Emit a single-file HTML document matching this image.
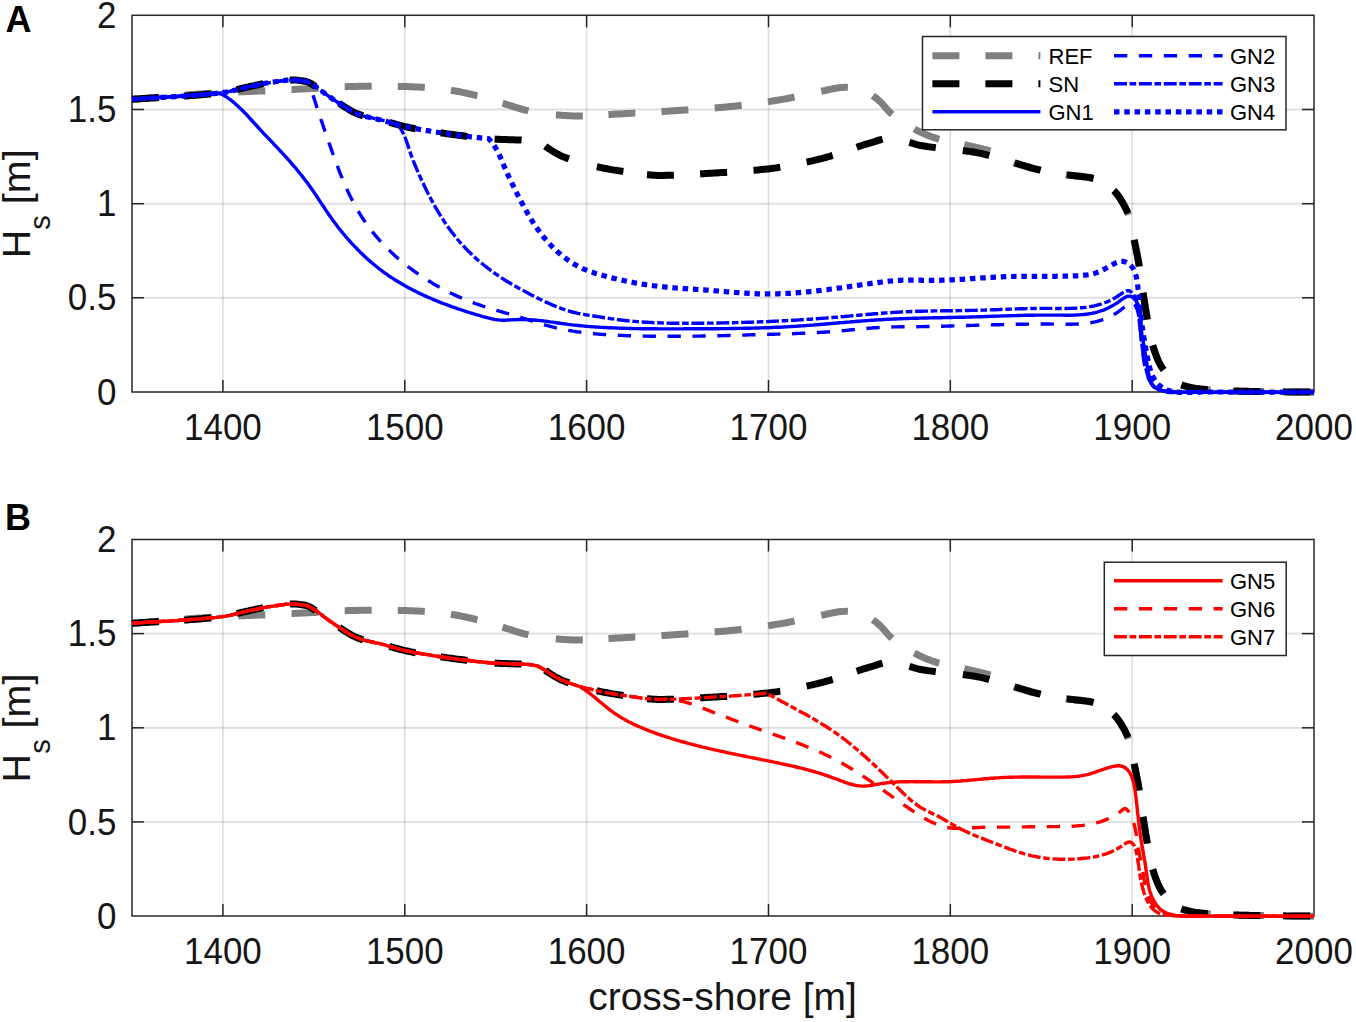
<!DOCTYPE html>
<html><head><meta charset="utf-8"><style>
html,body{margin:0;padding:0;background:#fff;width:1356px;height:1022px;overflow:hidden}
svg{display:block}
text{font-family:"Liberation Sans",sans-serif;fill:#161616}
.tk{font-size:35px}
.lg{font-size:22px;fill:#000}
.yl{font-size:39.5px}
.sub{font-size:29px}
.xl{font-size:39px}
.pl{font-size:36px;font-weight:bold;fill:#000}
</style></head><body>
<svg width="1356" height="1022" viewBox="0 0 1356 1022">
<rect width="1356" height="1022" fill="#fff"/>
<line x1="222.9" y1="15.3" x2="222.9" y2="392" stroke="#262626" stroke-opacity="0.15" stroke-width="1.7"/>
<line x1="404.8" y1="15.3" x2="404.8" y2="392" stroke="#262626" stroke-opacity="0.15" stroke-width="1.7"/>
<line x1="586.6" y1="15.3" x2="586.6" y2="392" stroke="#262626" stroke-opacity="0.15" stroke-width="1.7"/>
<line x1="768.5" y1="15.3" x2="768.5" y2="392" stroke="#262626" stroke-opacity="0.15" stroke-width="1.7"/>
<line x1="950.3" y1="15.3" x2="950.3" y2="392" stroke="#262626" stroke-opacity="0.15" stroke-width="1.7"/>
<line x1="1132.2" y1="15.3" x2="1132.2" y2="392" stroke="#262626" stroke-opacity="0.15" stroke-width="1.7"/>
<line x1="132" y1="297.8" x2="1314" y2="297.8" stroke="#262626" stroke-opacity="0.15" stroke-width="1.9"/>
<line x1="132" y1="203.7" x2="1314" y2="203.7" stroke="#262626" stroke-opacity="0.15" stroke-width="1.9"/>
<line x1="132" y1="109.5" x2="1314" y2="109.5" stroke="#262626" stroke-opacity="0.15" stroke-width="1.9"/>
<line x1="222.9" y1="539.5" x2="222.9" y2="916" stroke="#262626" stroke-opacity="0.15" stroke-width="1.7"/>
<line x1="404.8" y1="539.5" x2="404.8" y2="916" stroke="#262626" stroke-opacity="0.15" stroke-width="1.7"/>
<line x1="586.6" y1="539.5" x2="586.6" y2="916" stroke="#262626" stroke-opacity="0.15" stroke-width="1.7"/>
<line x1="768.5" y1="539.5" x2="768.5" y2="916" stroke="#262626" stroke-opacity="0.15" stroke-width="1.7"/>
<line x1="950.3" y1="539.5" x2="950.3" y2="916" stroke="#262626" stroke-opacity="0.15" stroke-width="1.7"/>
<line x1="1132.2" y1="539.5" x2="1132.2" y2="916" stroke="#262626" stroke-opacity="0.15" stroke-width="1.7"/>
<line x1="132" y1="821.9" x2="1314" y2="821.9" stroke="#262626" stroke-opacity="0.15" stroke-width="1.9"/>
<line x1="132" y1="727.8" x2="1314" y2="727.8" stroke="#262626" stroke-opacity="0.15" stroke-width="1.9"/>
<line x1="132" y1="633.6" x2="1314" y2="633.6" stroke="#262626" stroke-opacity="0.15" stroke-width="1.9"/>
<rect x="132" y="15.3" width="1182" height="376.7" fill="none" stroke="#262626" stroke-width="1.5"/>
<line x1="222.9" y1="392" x2="222.9" y2="380" stroke="#262626" stroke-width="1.5"/>
<line x1="222.9" y1="15.3" x2="222.9" y2="27.3" stroke="#262626" stroke-width="1.5"/>
<line x1="404.8" y1="392" x2="404.8" y2="380" stroke="#262626" stroke-width="1.5"/>
<line x1="404.8" y1="15.3" x2="404.8" y2="27.3" stroke="#262626" stroke-width="1.5"/>
<line x1="586.6" y1="392" x2="586.6" y2="380" stroke="#262626" stroke-width="1.5"/>
<line x1="586.6" y1="15.3" x2="586.6" y2="27.3" stroke="#262626" stroke-width="1.5"/>
<line x1="768.5" y1="392" x2="768.5" y2="380" stroke="#262626" stroke-width="1.5"/>
<line x1="768.5" y1="15.3" x2="768.5" y2="27.3" stroke="#262626" stroke-width="1.5"/>
<line x1="950.3" y1="392" x2="950.3" y2="380" stroke="#262626" stroke-width="1.5"/>
<line x1="950.3" y1="15.3" x2="950.3" y2="27.3" stroke="#262626" stroke-width="1.5"/>
<line x1="1132.2" y1="392" x2="1132.2" y2="380" stroke="#262626" stroke-width="1.5"/>
<line x1="1132.2" y1="15.3" x2="1132.2" y2="27.3" stroke="#262626" stroke-width="1.5"/>
<line x1="132" y1="297.8" x2="144" y2="297.8" stroke="#262626" stroke-width="1.5"/>
<line x1="1314" y1="297.8" x2="1302" y2="297.8" stroke="#262626" stroke-width="1.5"/>
<line x1="132" y1="203.7" x2="144" y2="203.7" stroke="#262626" stroke-width="1.5"/>
<line x1="1314" y1="203.7" x2="1302" y2="203.7" stroke="#262626" stroke-width="1.5"/>
<line x1="132" y1="109.5" x2="144" y2="109.5" stroke="#262626" stroke-width="1.5"/>
<line x1="1314" y1="109.5" x2="1302" y2="109.5" stroke="#262626" stroke-width="1.5"/>
<text transform="translate(222.9,439.6) scale(1,1.065)" text-anchor="middle" class="tk">1400</text>
<text transform="translate(404.8,439.6) scale(1,1.065)" text-anchor="middle" class="tk">1500</text>
<text transform="translate(586.6,439.6) scale(1,1.065)" text-anchor="middle" class="tk">1600</text>
<text transform="translate(768.5,439.6) scale(1,1.065)" text-anchor="middle" class="tk">1700</text>
<text transform="translate(950.3,439.6) scale(1,1.065)" text-anchor="middle" class="tk">1800</text>
<text transform="translate(1132.2,439.6) scale(1,1.065)" text-anchor="middle" class="tk">1900</text>
<text transform="translate(1314.0,439.6) scale(1,1.065)" text-anchor="middle" class="tk">2000</text>
<text transform="translate(116.5,404.6) scale(1,1.065)" text-anchor="end" class="tk">0</text>
<text transform="translate(116.5,310.4) scale(1,1.065)" text-anchor="end" class="tk">0.5</text>
<text transform="translate(116.5,216.2) scale(1,1.065)" text-anchor="end" class="tk">1</text>
<text transform="translate(116.5,122.1) scale(1,1.065)" text-anchor="end" class="tk">1.5</text>
<text transform="translate(116.5,27.9) scale(1,1.065)" text-anchor="end" class="tk">2</text>
<text transform="translate(30.3,258.2) rotate(-90)" class="yl">H<tspan class="sub" dy="19.5">s</tspan><tspan dy="-19.5"> [m]</tspan></text>
<rect x="132" y="539.5" width="1182" height="376.5" fill="none" stroke="#262626" stroke-width="1.5"/>
<line x1="222.9" y1="916" x2="222.9" y2="904" stroke="#262626" stroke-width="1.5"/>
<line x1="222.9" y1="539.5" x2="222.9" y2="551.5" stroke="#262626" stroke-width="1.5"/>
<line x1="404.8" y1="916" x2="404.8" y2="904" stroke="#262626" stroke-width="1.5"/>
<line x1="404.8" y1="539.5" x2="404.8" y2="551.5" stroke="#262626" stroke-width="1.5"/>
<line x1="586.6" y1="916" x2="586.6" y2="904" stroke="#262626" stroke-width="1.5"/>
<line x1="586.6" y1="539.5" x2="586.6" y2="551.5" stroke="#262626" stroke-width="1.5"/>
<line x1="768.5" y1="916" x2="768.5" y2="904" stroke="#262626" stroke-width="1.5"/>
<line x1="768.5" y1="539.5" x2="768.5" y2="551.5" stroke="#262626" stroke-width="1.5"/>
<line x1="950.3" y1="916" x2="950.3" y2="904" stroke="#262626" stroke-width="1.5"/>
<line x1="950.3" y1="539.5" x2="950.3" y2="551.5" stroke="#262626" stroke-width="1.5"/>
<line x1="1132.2" y1="916" x2="1132.2" y2="904" stroke="#262626" stroke-width="1.5"/>
<line x1="1132.2" y1="539.5" x2="1132.2" y2="551.5" stroke="#262626" stroke-width="1.5"/>
<line x1="132" y1="821.9" x2="144" y2="821.9" stroke="#262626" stroke-width="1.5"/>
<line x1="1314" y1="821.9" x2="1302" y2="821.9" stroke="#262626" stroke-width="1.5"/>
<line x1="132" y1="727.8" x2="144" y2="727.8" stroke="#262626" stroke-width="1.5"/>
<line x1="1314" y1="727.8" x2="1302" y2="727.8" stroke="#262626" stroke-width="1.5"/>
<line x1="132" y1="633.6" x2="144" y2="633.6" stroke="#262626" stroke-width="1.5"/>
<line x1="1314" y1="633.6" x2="1302" y2="633.6" stroke="#262626" stroke-width="1.5"/>
<text transform="translate(222.9,963.6) scale(1,1.065)" text-anchor="middle" class="tk">1400</text>
<text transform="translate(404.8,963.6) scale(1,1.065)" text-anchor="middle" class="tk">1500</text>
<text transform="translate(586.6,963.6) scale(1,1.065)" text-anchor="middle" class="tk">1600</text>
<text transform="translate(768.5,963.6) scale(1,1.065)" text-anchor="middle" class="tk">1700</text>
<text transform="translate(950.3,963.6) scale(1,1.065)" text-anchor="middle" class="tk">1800</text>
<text transform="translate(1132.2,963.6) scale(1,1.065)" text-anchor="middle" class="tk">1900</text>
<text transform="translate(1314.0,963.6) scale(1,1.065)" text-anchor="middle" class="tk">2000</text>
<text transform="translate(116.5,928.6) scale(1,1.065)" text-anchor="end" class="tk">0</text>
<text transform="translate(116.5,834.5) scale(1,1.065)" text-anchor="end" class="tk">0.5</text>
<text transform="translate(116.5,740.4) scale(1,1.065)" text-anchor="end" class="tk">1</text>
<text transform="translate(116.5,646.2) scale(1,1.065)" text-anchor="end" class="tk">1.5</text>
<text transform="translate(116.5,552.1) scale(1,1.065)" text-anchor="end" class="tk">2</text>
<text transform="translate(30.3,782.4) rotate(-90)" class="yl">H<tspan class="sub" dy="19.5">s</tspan><tspan dy="-19.5"> [m]</tspan></text>
<path d="M132.0,99.3 L133.5,99.2 L135.0,99.1 L136.5,99.0 L138.0,98.9 L139.5,98.7 L141.0,98.6 L142.5,98.5 L144.0,98.4 L145.5,98.3 L147.0,98.2 L148.5,98.0 L149.9,97.9 L151.4,97.8 L152.9,97.7 L154.4,97.6 L155.9,97.4 L157.4,97.3 L158.9,97.2 M185.0,95.1 L186.5,95.0 L188.0,94.8 L189.5,94.7 L191.0,94.6 L192.5,94.5 L194.0,94.4 L195.5,94.3 L197.0,94.2 L198.5,94.1 L200.0,94.0 L201.5,93.9 L203.0,93.8 L204.5,93.7 L206.0,93.6 L207.5,93.5 L209.0,93.4 L210.5,93.3 L212.0,93.2 M238.3,91.9 L239.8,91.8 L241.3,91.8 L242.8,91.7 L244.3,91.7 L245.8,91.6 L247.3,91.6 L248.8,91.5 L250.3,91.4 L251.8,91.4 L253.3,91.3 L254.8,91.3 L256.3,91.2 L257.8,91.1 L259.3,91.1 L260.8,91.0 L262.3,91.0 L263.8,90.9 L265.3,90.8 M291.5,89.5 L293.0,89.5 L294.5,89.4 L296.0,89.3 L297.5,89.2 L299.0,89.2 L300.5,89.1 L302.0,89.0 L303.5,89.0 L305.0,88.9 L306.5,88.8 L308.0,88.8 L309.5,88.7 L311.0,88.6 L312.5,88.5 L314.0,88.4 L315.5,88.4 L316.9,88.3 L318.4,88.2 M344.7,86.7 L346.2,86.7 L347.7,86.6 L349.2,86.6 L350.7,86.5 L352.2,86.5 L353.7,86.5 L355.2,86.4 L356.7,86.4 L358.2,86.3 L359.7,86.3 L361.2,86.3 L362.7,86.3 L364.2,86.2 L365.7,86.2 L367.2,86.2 L368.7,86.2 L370.2,86.2 L371.7,86.2 M397.8,86.5 L399.3,86.5 L400.8,86.5 L402.3,86.6 L403.8,86.6 L405.3,86.6 L406.8,86.6 L408.3,86.7 L409.8,86.7 L411.3,86.8 L412.8,86.8 L414.3,86.9 L415.8,87.0 L417.3,87.0 L418.8,87.1 L420.3,87.2 L421.8,87.2 L423.3,87.3 L424.8,87.4 M450.9,90.3 L452.4,90.6 L453.9,90.8 L455.4,91.0 L456.8,91.2 L458.3,91.5 L459.8,91.8 L461.3,92.1 L462.7,92.4 L464.2,92.7 L465.7,93.0 L467.1,93.3 L468.6,93.6 L470.1,94.0 L471.5,94.3 L473.0,94.7 L474.4,95.0 L475.9,95.4 L477.4,95.7 M502.6,103.2 L504.0,103.6 L505.4,104.1 L506.9,104.5 L508.3,105.0 L509.7,105.4 L511.1,105.9 L512.6,106.4 L514.0,106.8 L515.4,107.3 L516.9,107.7 L518.3,108.2 L519.7,108.6 L521.2,109.0 L522.6,109.4 L524.1,109.8 L525.5,110.2 L527.0,110.5 L528.4,110.9 M555.8,114.9 L557.3,115.0 L558.8,115.1 L560.3,115.2 L561.8,115.3 L563.3,115.4 L564.8,115.5 L566.3,115.6 L567.8,115.7 L569.3,115.7 L570.8,115.8 L572.3,115.9 L573.8,115.9 L575.3,115.9 L576.8,116.0 L578.3,116.0 L579.8,116.0 L581.3,116.0 L582.8,116.0 M608.4,114.6 L609.9,114.5 L611.3,114.4 L612.8,114.3 L614.3,114.2 L615.8,114.1 L617.3,114.0 L618.8,114.0 L620.3,113.9 L621.8,113.8 L623.3,113.7 L624.8,113.6 L626.3,113.6 L627.8,113.5 L629.3,113.4 L630.8,113.3 L632.3,113.2 L633.8,113.1 L635.3,113.1 M661.5,111.5 L663.0,111.4 L664.5,111.4 L666.0,111.3 L667.5,111.2 L669.0,111.1 L670.4,111.0 L671.9,110.9 L673.4,110.8 L674.9,110.7 L676.4,110.6 L677.9,110.5 L679.4,110.4 L680.9,110.3 L682.4,110.2 L683.9,110.1 L685.4,110.0 L686.9,109.9 L688.4,109.8 M714.7,107.9 L716.2,107.8 L717.7,107.7 L719.2,107.5 L720.7,107.4 L722.2,107.3 L723.7,107.2 L725.2,107.0 L726.7,106.9 L728.2,106.7 L729.7,106.6 L731.2,106.5 L732.7,106.3 L734.2,106.2 L735.7,106.0 L737.1,105.8 L738.6,105.7 L740.1,105.5 L741.6,105.3 M768.0,101.7 L769.5,101.5 L770.9,101.3 L772.4,101.0 L773.9,100.8 L775.4,100.5 L776.9,100.3 L778.3,100.1 L779.8,99.8 L781.3,99.6 L782.8,99.3 L784.3,99.1 L785.7,98.8 L787.2,98.5 L788.7,98.2 L790.1,97.9 L791.6,97.6 L793.1,97.3 L794.5,97.0 M821.2,91.3 L822.7,91.0 L824.2,90.7 L825.6,90.4 L827.1,90.0 L828.6,89.7 L830.0,89.4 L831.5,89.1 L833.0,88.8 L834.5,88.5 L835.9,88.3 L837.4,88.0 L838.9,87.8 L840.4,87.6 L841.9,87.5 L843.4,87.4 L844.9,87.3 L846.4,87.3 L847.9,87.4 M872.8,95.7 L874.0,96.6 L875.2,97.5 L876.5,98.3 L877.6,99.3 L878.7,100.3 L879.8,101.3 L880.9,102.4 L881.9,103.5 L882.9,104.6 L883.9,105.8 L884.9,106.9 L885.8,108.0 L886.8,109.1 L887.8,110.2 L888.9,111.3 L889.9,112.4 L891.0,113.4 L892.1,114.4 M914.3,129.0 L915.6,129.7 L917.0,130.4 L918.3,131.1 L919.7,131.7 L921.0,132.3 L922.4,133.0 L923.8,133.6 L925.1,134.2 L926.5,134.8 L927.9,135.4 L929.3,135.9 L930.7,136.4 L932.1,137.0 L933.5,137.4 L935.0,137.9 L936.4,138.4 L937.8,138.8 L939.3,139.2 M964.3,144.7 L965.7,145.0 L967.2,145.3 L968.7,145.7 L970.1,146.0 L971.6,146.4 L973.0,146.7 L974.5,147.0 L976.0,147.4 L977.4,147.7 L978.9,148.0 L980.4,148.4 L981.8,148.7 L983.3,149.1 L984.7,149.4 L986.2,149.8 L987.6,150.2 L989.1,150.6 L990.5,151.0 M1013.9,162.7 L1015.3,163.3 L1016.8,163.8 L1018.2,164.2 L1019.6,164.7 L1021.0,165.2 L1022.5,165.6 L1023.9,166.0 L1025.4,166.4 L1026.8,166.8 L1028.3,167.2 L1029.7,167.6 L1031.2,168.0 L1032.6,168.3 L1034.1,168.7 L1035.5,169.0 L1037.0,169.3 L1038.5,169.7 L1039.9,170.0 M1065.8,174.7 L1067.3,174.9 L1068.8,175.1 L1070.3,175.3 L1071.7,175.5 L1073.2,175.6 L1074.7,175.8 L1076.2,175.9 L1077.7,176.1 L1079.2,176.2 L1080.7,176.4 L1082.2,176.5 L1083.7,176.7 L1085.2,176.9 L1086.6,177.1 L1088.1,177.4 L1089.6,177.6 L1091.1,177.9 L1092.6,178.2 M1114.8,191.7 L1115.9,192.8 L1116.9,194.0 L1117.9,195.3 L1118.8,196.6 L1119.7,197.9 L1120.5,199.2 L1121.4,200.6 L1122.2,202.0 L1123.0,203.3 L1123.8,204.7 L1124.6,206.1 L1125.3,207.5 L1126.0,208.9 L1126.7,210.4 L1127.3,211.8 L1127.9,213.3 L1128.4,214.8 M1134.2,240.4 L1134.6,241.9 L1134.9,243.3 L1135.2,244.8 L1135.5,246.3 L1135.8,247.8 L1136.1,249.2 L1136.4,250.7 L1136.7,252.2 L1137.0,253.6 L1137.2,255.1 L1137.5,256.6 L1137.8,258.1 L1138.1,259.5 L1138.3,261.0 L1138.6,262.5 L1138.8,264.0 L1139.1,265.4 L1139.3,266.9 M1143.0,293.0 L1143.3,294.4 L1143.5,295.9 L1143.7,297.4 L1144.0,298.9 L1144.2,300.4 L1144.4,301.9 L1144.7,303.3 L1144.9,304.8 L1145.1,306.3 L1145.4,307.8 L1145.6,309.3 L1145.8,310.7 L1146.1,312.2 L1146.3,313.7 L1146.6,315.2 L1146.8,316.7 L1147.1,318.1 L1147.4,319.6 M1152.7,345.4 L1153.1,346.8 L1153.6,348.2 L1154.1,349.7 L1154.5,351.1 L1155.0,352.5 L1155.5,353.9 L1156.1,355.3 L1156.6,356.7 L1157.2,358.1 L1157.7,359.5 L1158.3,360.9 L1159.0,362.2 L1159.6,363.6 L1160.3,364.9 L1161.1,366.2 L1161.9,367.5 L1162.8,368.7 L1163.7,369.9 M1184.0,385.8 L1185.5,386.2 L1186.9,386.6 L1188.4,386.9 L1189.9,387.3 L1191.3,387.6 L1192.8,387.9 L1194.3,388.1 L1195.8,388.4 L1197.2,388.6 L1198.7,388.8 L1200.2,389.0 L1201.7,389.2 L1203.2,389.3 L1204.7,389.5 L1206.2,389.6 L1207.7,389.7 L1209.2,389.8 L1210.7,389.9 M1236.9,391.1 L1238.4,391.1 L1239.9,391.2 L1241.4,391.2 L1242.9,391.2 L1244.4,391.3 L1245.9,391.3 L1247.4,391.3 L1248.9,391.4 L1250.4,391.4 L1251.9,391.4 L1253.4,391.4 L1254.9,391.5 L1256.4,391.5 L1257.9,391.5 L1259.4,391.5 L1260.9,391.5 L1262.4,391.6 L1263.9,391.6 M1290.2,391.9 L1291.8,391.9 L1293.4,391.9 L1295.0,392.0 L1296.6,392.0 L1298.2,392.0 L1299.7,392.0 L1301.3,392.0 L1302.9,392.1 L1304.5,392.1 L1306.1,392.1 L1307.7,392.1 L1309.2,392.1 L1310.8,392.2 L1312.4,392.2 L1314.0,392.2" stroke="#808080" stroke-width="7" fill="none"/>
<path d="M132.0,99.3 L133.5,99.2 L135.0,99.1 L136.5,99.0 L138.0,98.9 L139.5,98.8 L141.0,98.7 L142.5,98.6 L144.0,98.5 L145.5,98.4 L147.0,98.3 L148.5,98.2 L150.0,98.1 L151.5,98.0 L153.0,97.9 L154.5,97.9 L156.0,97.8 L157.4,97.7 L158.9,97.6 M184.0,96.1 L185.6,96.0 L187.2,95.9 L188.8,95.8 L190.3,95.6 L191.9,95.5 L193.5,95.4 L195.1,95.3 L196.7,95.2 L198.3,95.0 L199.8,94.9 L201.4,94.8 L203.0,94.6 L204.6,94.5 L206.2,94.3 L207.7,94.2 L209.3,94.0 L210.9,93.9 M236.8,89.6 L238.3,89.2 L239.7,88.9 L241.2,88.5 L242.6,88.2 L244.1,87.8 L245.6,87.5 L247.0,87.2 L248.5,86.9 L250.0,86.5 L251.4,86.2 L252.9,85.9 L254.4,85.6 L255.8,85.2 L257.3,84.9 L258.8,84.6 L260.2,84.3 L261.7,84.0 L263.2,83.7 M290.0,80.1 L291.5,80.0 L293.0,80.0 L294.5,80.0 L296.0,80.1 L297.5,80.2 L299.0,80.4 L300.5,80.6 L302.0,80.8 L303.4,81.0 L304.9,81.3 L306.4,81.6 L307.8,82.0 L309.2,82.6 L310.5,83.3 L311.8,84.1 L313.1,84.9 L314.3,85.7 L315.6,86.5 M339.3,103.4 L340.5,104.2 L341.8,105.1 L343.1,105.9 L344.3,106.7 L345.6,107.5 L346.9,108.3 L348.2,109.0 L349.4,109.8 L350.7,110.6 L352.0,111.3 L353.4,112.0 L354.7,112.7 L356.1,113.3 L357.5,113.9 L358.9,114.4 L360.3,114.9 L361.7,115.4 L363.1,115.8 M389.5,122.3 L391.0,122.8 L392.4,123.2 L393.8,123.6 L395.3,124.0 L396.7,124.5 L398.2,124.9 L399.6,125.3 L401.1,125.6 L402.5,126.0 L404.0,126.4 L405.4,126.7 L406.9,127.0 L408.4,127.3 L409.8,127.6 L411.3,127.9 L412.8,128.2 L414.3,128.5 L415.7,128.7 M440.6,132.8 L442.1,133.0 L443.6,133.2 L445.1,133.4 L446.5,133.7 L448.0,133.9 L449.5,134.1 L451.0,134.3 L452.5,134.5 L454.0,134.7 L455.5,134.9 L457.0,135.1 L458.4,135.3 L459.9,135.5 L461.4,135.6 L462.9,135.8 L464.4,136.0 L465.9,136.2 L467.4,136.4 M494.6,139.1 L496.1,139.2 L497.6,139.3 L499.1,139.3 L500.6,139.4 L502.1,139.5 L503.6,139.5 L505.1,139.6 L506.6,139.6 L508.1,139.7 L509.6,139.7 L511.1,139.7 L512.6,139.8 L514.1,139.8 L515.6,139.9 L517.1,139.9 L518.6,140.0 L520.1,140.0 L521.6,140.1 M545.2,146.2 L546.4,147.1 L547.7,147.9 L548.9,148.8 L550.2,149.6 L551.4,150.4 L552.7,151.2 L553.9,152.0 L555.2,152.8 L556.5,153.5 L557.9,154.2 L559.2,154.9 L560.5,155.6 L561.9,156.2 L563.3,156.8 L564.7,157.3 L566.1,157.9 L567.5,158.4 L568.9,158.9 M596.8,166.7 L598.3,167.0 L599.7,167.3 L601.2,167.7 L602.7,168.0 L604.2,168.3 L605.6,168.5 L607.1,168.8 L608.6,169.1 L610.0,169.4 L611.5,169.6 L613.0,169.9 L614.5,170.1 L616.0,170.3 L617.5,170.6 L618.9,170.8 L620.4,171.0 L621.9,171.2 L623.4,171.4 M647.0,174.7 L648.5,174.8 L649.9,175.0 L651.4,175.1 L652.9,175.2 L654.4,175.3 L655.9,175.3 L657.4,175.4 L658.9,175.4 L660.4,175.4 L661.9,175.4 L663.4,175.4 L664.9,175.4 L666.4,175.3 L667.9,175.3 L669.4,175.3 L670.9,175.2 L672.4,175.2 L673.9,175.2 M700.1,173.9 L701.6,173.8 L703.1,173.7 L704.6,173.6 L706.1,173.5 L707.6,173.4 L709.1,173.3 L710.6,173.2 L712.1,173.2 L713.6,173.1 L715.1,173.0 L716.6,172.9 L718.1,172.8 L719.6,172.7 L721.1,172.6 L722.6,172.5 L724.1,172.5 L725.6,172.4 L727.1,172.3 M753.5,170.3 L755.0,170.2 L756.5,170.1 L758.0,169.9 L759.5,169.8 L761.0,169.6 L762.4,169.5 L763.9,169.3 L765.4,169.2 L766.9,169.0 L768.4,168.9 L769.9,168.7 L771.4,168.5 L772.9,168.3 L774.4,168.1 L775.8,167.9 L777.3,167.7 L778.8,167.4 L780.3,167.2 M806.6,162.1 L808.1,161.8 L809.5,161.4 L811.0,161.1 L812.4,160.8 L813.9,160.4 L815.4,160.1 L816.8,159.7 L818.3,159.4 L819.7,159.0 L821.2,158.7 L822.7,158.3 L824.1,157.9 L825.6,157.5 L827.0,157.1 L828.4,156.7 L829.9,156.3 L831.3,155.8 L832.7,155.4 M856.7,147.2 L858.1,146.7 L859.5,146.2 L860.9,145.8 L862.4,145.3 L863.8,144.8 L865.2,144.4 L866.7,144.0 L868.1,143.6 L869.6,143.2 L871.0,142.7 L872.4,142.3 L873.9,141.8 L875.3,141.4 L876.7,140.9 L878.1,140.4 L879.6,140.0 L881.0,139.6 L882.5,139.2 M909.4,142.4 L910.8,142.8 L912.2,143.2 L913.7,143.7 L915.1,144.1 L916.5,144.5 L918.0,144.9 L919.5,145.2 L920.9,145.5 L922.4,145.8 L923.9,146.0 L925.4,146.2 L926.9,146.5 L928.3,146.7 L929.8,146.9 L931.3,147.1 L932.8,147.3 L934.3,147.4 L935.8,147.6 M962.8,150.6 L964.3,150.8 L965.8,151.0 L967.3,151.2 L968.8,151.4 L970.2,151.6 L971.7,151.8 L973.2,152.0 L974.7,152.3 L976.2,152.5 L977.6,152.8 L979.1,153.1 L980.6,153.4 L982.0,153.7 L983.5,154.1 L985.0,154.4 L986.4,154.8 L987.9,155.2 L989.3,155.6 M1014.7,162.9 L1016.1,163.3 L1017.6,163.7 L1019.0,164.1 L1020.5,164.6 L1021.9,165.0 L1023.3,165.4 L1024.8,165.8 L1026.2,166.3 L1027.6,166.7 L1029.1,167.1 L1030.5,167.6 L1032.0,168.0 L1033.4,168.4 L1034.9,168.8 L1036.3,169.1 L1037.8,169.5 L1039.2,169.8 L1040.7,170.2 M1066.9,174.9 L1068.3,175.1 L1069.8,175.2 L1071.3,175.4 L1072.8,175.6 L1074.3,175.7 L1075.8,175.9 L1077.3,176.0 L1078.8,176.2 L1080.3,176.3 L1081.8,176.5 L1083.3,176.7 L1084.7,176.9 L1086.2,177.1 L1087.7,177.3 L1089.2,177.5 L1090.7,177.8 L1092.1,178.1 L1093.6,178.4 M1113.7,190.6 L1114.8,191.6 L1115.8,192.7 L1116.8,193.9 L1117.7,195.1 L1118.6,196.3 L1119.4,197.5 L1120.2,198.8 L1121.0,200.0 L1121.8,201.3 L1122.6,202.6 L1123.3,203.9 L1124.1,205.2 L1124.8,206.5 L1125.5,207.9 L1126.1,209.2 L1126.8,210.6 L1127.3,212.0 L1127.9,213.4 M1134.1,239.7 L1134.4,241.2 L1134.7,242.6 L1135.0,244.1 L1135.3,245.6 L1135.6,247.0 L1135.9,248.5 L1136.2,250.0 L1136.5,251.5 L1136.8,252.9 L1137.1,254.4 L1137.4,255.9 L1137.7,257.4 L1137.9,258.8 L1138.2,260.3 L1138.5,261.8 L1138.7,263.3 L1139.0,264.7 L1139.2,266.2 M1143.0,292.8 L1143.2,294.3 L1143.5,295.8 L1143.7,297.3 L1143.9,298.8 L1144.2,300.3 L1144.4,301.7 L1144.6,303.2 L1144.9,304.7 L1145.1,306.2 L1145.3,307.7 L1145.6,309.1 L1145.8,310.6 L1146.1,312.1 L1146.3,313.6 L1146.6,315.1 L1146.8,316.5 L1147.1,318.0 L1147.3,319.5 M1152.7,345.4 L1153.2,346.9 L1153.6,348.3 L1154.1,349.7 L1154.6,351.1 L1155.1,352.6 L1155.6,354.0 L1156.1,355.4 L1156.6,356.8 L1157.2,358.2 L1157.8,359.6 L1158.4,360.9 L1159.0,362.3 L1159.7,363.6 L1160.4,365.0 L1161.1,366.3 L1161.9,367.5 L1162.8,368.7 L1163.7,369.9 M1181.3,384.9 L1182.7,385.4 L1184.1,385.8 L1185.6,386.2 L1187.0,386.6 L1188.5,386.9 L1189.9,387.3 L1191.4,387.6 L1192.9,387.9 L1194.4,388.1 L1195.8,388.4 L1197.3,388.6 L1198.8,388.8 L1200.3,389.0 L1201.8,389.2 L1203.3,389.3 L1204.8,389.5 L1206.3,389.6 L1207.8,389.7 M1233.3,391.0 L1234.8,391.0 L1236.3,391.1 L1237.8,391.1 L1239.3,391.2 L1240.8,391.2 L1242.3,391.2 L1243.8,391.3 L1245.3,391.3 L1246.8,391.3 L1248.3,391.3 L1249.8,391.4 L1251.3,391.4 L1252.8,391.4 L1254.3,391.4 L1255.8,391.5 L1257.3,391.5 L1258.8,391.5 L1260.3,391.5 M1283.1,391.8 L1284.6,391.8 L1286.1,391.9 L1287.6,391.9 L1289.1,391.9 L1290.6,391.9 L1292.1,391.9 L1293.6,391.9 L1295.1,392.0 L1296.6,392.0 L1298.1,392.0 L1299.6,392.0 L1301.1,392.0 L1302.6,392.0 L1304.1,392.1 L1305.6,392.1 L1307.1,392.1 L1308.6,392.1 L1310.1,392.1" stroke="#000" stroke-width="7" fill="none"/>
<path d="M132.0,99.3 L133.9,99.2 L135.8,99.0 L137.7,98.9 L139.6,98.7 L141.5,98.6 L143.5,98.5 L145.5,98.3 L147.5,98.2 L149.5,98.0 L151.5,97.9 L153.5,97.8 L155.5,97.6 L157.5,97.5 L159.6,97.3 L161.6,97.2 L163.7,97.1 L165.7,96.9 L167.8,96.8 L169.9,96.7 L171.9,96.5 L174.0,96.4 L176.1,96.2 L178.1,96.1 L180.2,96.0 L182.2,95.8 L184.3,95.7 L186.3,95.6 L188.4,95.4 L190.4,95.3 L192.4,95.2 L194.4,95.0 L196.4,94.9 L198.4,94.7 L200.4,94.5 L202.3,94.3 L204.3,94.1 L206.2,93.9 L208.1,93.7 L210.0,93.5 L211.9,93.3 L213.7,93.1 L215.6,93.1 L217.4,93.2 L219.2,93.5 L220.9,94.0 L222.7,94.7 L224.4,95.7 L226.1,96.7 L227.7,97.8 L229.4,99.0 L231.0,100.2 L232.5,101.4 L234.1,102.7 L235.6,104.0 L237.1,105.4 L238.6,106.7 L240.1,108.2 L241.6,109.6 L243.0,111.0 L244.4,112.5 L245.9,114.0 L247.3,115.5 L248.7,117.0 L250.0,118.5 L251.4,120.0 L252.8,121.5 L254.1,123.0 L255.5,124.5 L256.9,126.0 L258.2,127.5 L259.5,128.9 L260.9,130.4 L262.2,131.8 L263.6,133.3 L264.9,134.7 L266.3,136.1 L267.6,137.5 L269.0,138.9 L270.3,140.3 L271.6,141.7 L273.0,143.2 L274.3,144.6 L275.7,146.0 L277.0,147.4 L278.4,148.9 L279.7,150.3 L281.1,151.8 L282.4,153.2 L283.8,154.7 L285.1,156.2 L286.5,157.7 L287.8,159.2 L289.2,160.7 L290.5,162.2 L291.9,163.8 L293.2,165.3 L294.6,166.9 L295.9,168.4 L297.2,170.0 L298.5,171.6 L299.8,173.2 L301.1,174.8 L302.4,176.4 L303.6,178.0 L304.8,179.6 L306.1,181.2 L307.3,182.8 L308.5,184.4 L309.6,186.0 L310.8,187.7 L311.9,189.3 L313.1,190.9 L314.2,192.6 L315.3,194.2 L316.4,195.8 L317.5,197.5 L318.6,199.1 L319.6,200.8 L320.7,202.4 L321.8,204.0 L322.9,205.7 L324.0,207.3 L325.0,208.9 L326.1,210.6 L327.2,212.2 L328.3,213.8 L329.5,215.5 L330.6,217.1 L331.8,218.7 L332.9,220.3 L334.1,221.9 L335.3,223.5 L336.5,225.1 L337.7,226.7 L338.9,228.3 L340.2,229.8 L341.4,231.4 L342.7,233.0 L344.0,234.5 L345.3,236.1 L346.6,237.6 L347.9,239.1 L349.3,240.6 L350.6,242.1 L352.0,243.6 L353.4,245.1 L354.8,246.6 L356.2,248.0 L357.6,249.5 L359.0,250.9 L360.4,252.4 L361.9,253.8 L363.4,255.2 L364.8,256.5 L366.3,257.9 L367.8,259.3 L369.3,260.6 L370.8,261.9 L372.4,263.2 L373.9,264.5 L375.4,265.8 L377.0,267.0 L378.6,268.3 L380.2,269.5 L381.7,270.7 L383.3,271.9 L385.0,273.1 L386.6,274.2 L388.2,275.3 L389.8,276.5 L391.5,277.6 L393.2,278.6 L394.8,279.7 L396.5,280.7 L398.2,281.8 L399.9,282.8 L401.6,283.8 L403.3,284.8 L405.0,285.8 L406.7,286.7 L408.5,287.7 L410.2,288.6 L412.0,289.5 L413.7,290.4 L415.5,291.3 L417.3,292.2 L419.0,293.1 L420.8,293.9 L422.6,294.8 L424.4,295.6 L426.2,296.4 L428.0,297.2 L429.9,298.0 L431.7,298.8 L433.5,299.6 L435.4,300.3 L437.2,301.1 L439.1,301.8 L440.9,302.6 L442.8,303.3 L444.7,304.0 L446.5,304.7 L448.4,305.4 L450.3,306.1 L452.2,306.8 L454.1,307.4 L456.0,308.1 L457.9,308.8 L459.8,309.4 L461.7,310.0 L463.6,310.7 L465.5,311.3 L467.5,311.9 L469.4,312.5 L471.3,313.1 L473.3,313.7 L475.2,314.3 L477.1,314.9 L479.1,315.4 L481.0,316.0 L483.0,316.6 L484.9,317.1 L486.9,317.6 L488.9,318.1 L490.8,318.6 L492.8,319.0 L494.8,319.4 L496.7,319.7 L498.7,319.9 L500.7,320.1 L502.6,320.2 L504.6,320.2 L506.6,320.1 L508.6,320.0 L510.6,319.9 L512.5,319.8 L514.5,319.7 L516.5,319.6 L518.5,319.5 L520.5,319.5 L522.4,319.5 L524.4,319.5 L526.4,319.5 L528.4,319.6 L530.4,319.7 L532.4,319.9 L534.4,320.0 L536.3,320.2 L538.3,320.4 L540.3,320.6 L542.3,320.8 L544.3,321.1 L546.3,321.3 L548.3,321.6 L550.3,321.9 L552.3,322.1 L554.2,322.4 L556.2,322.7 L558.2,323.0 L560.2,323.3 L562.2,323.6 L564.2,323.8 L566.2,324.1 L568.2,324.4 L570.2,324.6 L572.2,324.9 L574.2,325.1 L576.2,325.3 L578.2,325.5 L580.2,325.7 L582.1,325.9 L584.1,326.1 L586.1,326.3 L588.1,326.4 L590.1,326.6 L592.1,326.7 L594.1,326.9 L596.1,327.0 L598.1,327.1 L600.1,327.3 L602.1,327.4 L604.1,327.5 L606.1,327.6 L608.1,327.7 L610.1,327.8 L612.1,327.9 L614.1,327.9 L616.1,328.0 L618.1,328.1 L620.1,328.2 L622.1,328.2 L624.1,328.3 L626.1,328.4 L628.1,328.4 L630.1,328.5 L632.1,328.5 L634.1,328.6 L636.1,328.6 L638.1,328.6 L640.1,328.7 L642.1,328.7 L644.1,328.7 L646.1,328.8 L648.1,328.8 L650.1,328.8 L652.1,328.8 L654.1,328.8 L656.1,328.8 L658.1,328.9 L660.1,328.9 L662.1,328.9 L664.1,328.9 L666.1,328.9 L668.1,328.9 L670.1,328.9 L672.1,328.9 L674.1,328.9 L676.1,328.9 L678.1,328.9 L680.1,328.9 L682.1,328.9 L684.1,328.8 L686.1,328.8 L688.1,328.8 L690.1,328.8 L692.1,328.8 L694.1,328.8 L696.1,328.8 L698.1,328.8 L700.1,328.8 L702.1,328.8 L704.1,328.7 L706.1,328.7 L708.1,328.7 L710.1,328.7 L712.1,328.7 L714.1,328.7 L716.1,328.7 L718.1,328.7 L720.1,328.6 L722.1,328.6 L724.0,328.6 L726.0,328.6 L728.0,328.6 L730.0,328.5 L732.0,328.5 L734.0,328.5 L736.0,328.5 L738.0,328.4 L740.0,328.4 L742.0,328.4 L744.0,328.3 L746.0,328.3 L748.0,328.2 L750.0,328.2 L752.0,328.1 L754.0,328.1 L756.0,328.0 L758.0,328.0 L760.0,327.9 L762.0,327.9 L764.0,327.8 L765.9,327.7 L767.9,327.7 L769.9,327.6 L771.9,327.5 L773.9,327.4 L775.9,327.3 L777.9,327.3 L779.9,327.2 L781.9,327.1 L783.9,327.0 L785.9,326.9 L787.9,326.8 L789.9,326.6 L791.9,326.5 L793.9,326.4 L795.9,326.3 L797.9,326.1 L799.8,326.0 L801.8,325.9 L803.8,325.7 L805.8,325.6 L807.8,325.4 L809.8,325.3 L811.8,325.1 L813.8,325.0 L815.8,324.8 L817.8,324.7 L819.8,324.5 L821.8,324.3 L823.8,324.2 L825.8,324.0 L827.8,323.8 L829.7,323.7 L831.7,323.5 L833.7,323.3 L835.7,323.2 L837.7,323.0 L839.7,322.8 L841.7,322.6 L843.7,322.5 L845.7,322.3 L847.7,322.1 L849.7,322.0 L851.7,321.8 L853.7,321.7 L855.7,321.5 L857.7,321.3 L859.7,321.2 L861.6,321.0 L863.6,320.9 L865.6,320.7 L867.6,320.6 L869.6,320.4 L871.6,320.3 L873.6,320.2 L875.6,320.0 L877.6,319.9 L879.6,319.8 L881.6,319.7 L883.6,319.5 L885.6,319.4 L887.6,319.3 L889.6,319.2 L891.6,319.1 L893.6,319.0 L895.6,319.0 L897.6,318.9 L899.6,318.8 L901.6,318.7 L903.5,318.6 L905.5,318.6 L907.5,318.5 L909.5,318.4 L911.5,318.4 L913.5,318.3 L915.5,318.3 L917.5,318.2 L919.5,318.1 L921.5,318.1 L923.5,318.0 L925.5,318.0 L927.5,318.0 L929.5,317.9 L931.5,317.9 L933.5,317.8 L935.5,317.8 L937.5,317.7 L939.5,317.7 L941.5,317.7 L943.5,317.6 L945.5,317.6 L947.5,317.5 L949.5,317.5 L951.5,317.5 L953.5,317.4 L955.5,317.4 L957.5,317.3 L959.5,317.3 L961.5,317.2 L963.5,317.2 L965.5,317.1 L967.5,317.1 L969.5,317.0 L971.5,317.0 L973.5,316.9 L975.5,316.9 L977.5,316.8 L979.5,316.7 L981.5,316.7 L983.5,316.6 L985.5,316.5 L987.5,316.5 L989.5,316.4 L991.5,316.3 L993.5,316.3 L995.6,316.2 L997.6,316.1 L999.6,316.1 L1001.6,316.0 L1003.6,315.9 L1005.6,315.9 L1007.6,315.8 L1009.6,315.7 L1011.6,315.7 L1013.6,315.6 L1015.6,315.6 L1017.6,315.5 L1019.6,315.5 L1021.6,315.4 L1023.6,315.4 L1025.7,315.3 L1027.7,315.3 L1029.7,315.2 L1031.7,315.2 L1033.7,315.2 L1035.7,315.1 L1037.7,315.1 L1039.7,315.1 L1041.7,315.1 L1043.7,315.1 L1045.8,315.1 L1047.8,315.1 L1049.8,315.1 L1051.8,315.1 L1053.8,315.1 L1055.8,315.1 L1057.8,315.1 L1059.8,315.1 L1061.9,315.1 L1063.9,315.2 L1065.9,315.2 L1067.9,315.2 L1069.9,315.2 L1071.9,315.1 L1073.9,315.1 L1075.9,315.0 L1077.8,314.9 L1079.8,314.8 L1081.8,314.6 L1083.7,314.5 L1085.7,314.2 L1087.6,314.0 L1089.6,313.7 L1091.5,313.4 L1093.4,313.0 L1095.3,312.6 L1097.2,312.1 L1099.0,311.5 L1100.9,310.9 L1102.8,310.3 L1104.6,309.6 L1106.4,308.8 L1108.2,308.0 L1110.0,307.1 L1111.8,306.1 L1113.5,305.1 L1115.2,304.1 L1117.0,303.0 L1118.6,301.8 L1120.3,300.6 L1122.0,299.4 L1123.6,298.3 L1125.2,297.3 L1126.8,296.6 L1128.4,296.2 L1129.9,296.1 L1131.4,296.6 L1132.9,297.5 L1134.3,298.8 L1135.6,300.3 L1136.8,302.1 L1137.9,304.1 L1138.8,306.1 L1139.5,308.2 L1140.1,310.3 L1140.4,312.4 L1140.7,314.4 L1140.9,316.5 L1141.0,318.5 L1141.0,320.5 L1141.0,322.6 L1141.1,324.6 L1141.1,326.5 L1141.3,328.5 L1141.4,330.5 L1141.7,332.4 L1141.9,334.3 L1142.2,336.2 L1142.6,338.2 L1142.9,340.1 L1143.3,342.0 L1143.6,343.9 L1144.0,345.8 L1144.3,347.7 L1144.7,349.7 L1145.0,351.6 L1145.3,353.6 L1145.6,355.6 L1146.0,357.6 L1146.3,359.6 L1146.6,361.6 L1146.9,363.7 L1147.2,365.8 L1147.5,367.9 L1147.9,370.0 L1148.3,372.1 L1148.7,374.2 L1149.2,376.2 L1149.7,378.2 L1150.4,380.1 L1151.1,381.9 L1152.0,383.5 L1152.9,385.0 L1154.0,386.4 L1155.3,387.6 L1156.7,388.6 L1158.2,389.4 L1159.9,390.1 L1161.7,390.6 L1163.6,391.0 L1165.6,391.3 L1167.6,391.5 L1169.7,391.7 L1171.7,391.8 L1173.8,391.9 L1175.9,391.9 L1178.0,392.0 L1180.0,392.1 L1182.1,392.1 L1184.1,392.2 L1186.1,392.2 L1188.1,392.2 L1190.2,392.2 L1192.2,392.3 L1194.2,392.3 L1196.2,392.3 L1198.2,392.3 L1200.2,392.3 L1202.2,392.3 L1204.1,392.2 L1206.1,392.2 L1208.1,392.2 L1210.1,392.2 L1212.1,392.2 L1214.1,392.2 L1216.0,392.1 L1218.0,392.1 L1220.0,392.1 L1222.0,392.1 L1224.0,392.1 L1226.0,392.1 L1228.0,392.1 L1230.0,392.1 L1231.9,392.1 L1233.9,392.1 L1235.9,392.1 L1237.9,392.1 L1239.9,392.1 L1241.9,392.1 L1243.9,392.1 L1245.9,392.1 L1247.9,392.1 L1249.9,392.1 L1251.9,392.1 L1254.0,392.1 L1256.0,392.1 L1258.0,392.1 L1260.0,392.1 L1262.0,392.1 L1264.0,392.1 L1266.0,392.2 L1268.0,392.2 L1270.0,392.2 L1272.0,392.2 L1274.0,392.2 L1276.0,392.2 L1278.0,392.2 L1280.0,392.2 L1282.0,392.2 L1284.0,392.2 L1286.1,392.2 L1288.1,392.2 L1290.1,392.2 L1292.1,392.2 L1294.1,392.2 L1296.1,392.2 L1298.1,392.2 L1300.1,392.2 L1302.1,392.2 L1304.0,392.2 L1306.0,392.2 L1308.0,392.2 L1310.0,392.2 L1312.0,392.2 L1314.0,392.2" stroke="#0000ff" stroke-width="3.4" fill="none"/>
<path d="M132.0,99.3 L134.0,99.2 L136.0,99.0 L138.0,98.9 L140.0,98.7 L142.0,98.6 L144.0,98.5 L146.0,98.4 L148.0,98.2 L150.0,98.1 L152.0,98.0 L154.0,97.9 L156.0,97.8 L158.0,97.6 L160.0,97.5 L162.0,97.4 L164.0,97.3 L166.0,97.2 L168.0,97.1 L170.0,97.0 L172.0,96.8 L174.0,96.7 L176.0,96.6 L178.0,96.5 L180.0,96.3 L182.0,96.2 L184.0,96.1 L186.0,95.9 L188.0,95.8 L190.0,95.7 L192.0,95.5 L194.0,95.4 L196.0,95.2 L198.0,95.1 L200.0,94.9 L202.0,94.7 L204.0,94.5 L206.0,94.4 L208.0,94.2 L210.0,94.0 L212.0,93.8 L214.0,93.6 L216.0,93.4 L218.0,93.1 L220.0,92.9 L222.0,92.7 L224.0,92.4 L226.0,92.1 L227.9,91.7 L229.9,91.3 L231.9,90.8 L233.8,90.4 L235.8,89.9 L237.8,89.4 L239.7,88.9 L241.7,88.4 L243.7,87.9 L245.7,87.5 L247.6,87.0 L249.6,86.6 L251.6,86.2 L253.5,85.8 L255.5,85.3 L257.4,84.9 L259.4,84.5 L261.4,84.1 L263.3,83.7 L265.3,83.3 L267.2,83.0 L269.2,82.7 L271.2,82.4 L273.2,82.1 L275.2,81.8 L277.2,81.5 L279.2,81.2 L281.2,80.9 L283.2,80.7 L285.2,80.4 L287.2,80.2 L289.2,80.1 L291.2,80.0 L293.2,80.0 L295.2,80.1 L297.3,80.2 L299.3,80.4 L301.3,80.7 L303.3,81.0 L305.3,81.4 L307.2,81.8 L309.0,82.5 L309.5,84.3 L310.1,86.2 L310.7,88.0 L311.3,89.8 L311.9,91.7 L312.5,93.6 L313.1,95.4 L313.7,97.3 L314.3,99.1 L314.9,101.0 L315.5,102.9 L316.1,104.8 L316.7,106.7 L317.3,108.6 L318.0,110.5 L318.6,112.4 L319.2,114.3 L319.9,116.2 L320.5,118.1 L321.1,120.0 L321.8,121.9 L322.4,123.8 L323.1,125.7 L323.7,127.6 L324.4,129.6 L325.0,131.5 L325.7,133.4 L326.3,135.3 L327.0,137.2 L327.7,139.1 L328.3,141.1 L329.0,143.0 L329.7,144.9 L330.4,146.8 L331.0,148.7 L331.7,150.6 L332.4,152.5 L333.1,154.4 L333.8,156.4 L334.5,158.3 L335.2,160.1 L335.9,162.0 L336.6,163.9 L337.3,165.8 L338.0,167.7 L338.7,169.6 L339.4,171.5 L340.2,173.3 L340.9,175.2 L341.7,177.0 L342.4,178.9 L343.2,180.7 L344.0,182.6 L344.8,184.4 L345.6,186.2 L346.4,188.1 L347.2,189.9 L348.0,191.7 L348.9,193.5 L349.7,195.3 L350.6,197.0 L351.5,198.8 L352.4,200.6 L353.3,202.3 L354.2,204.1 L355.1,205.8 L356.1,207.5 L357.1,209.2 L358.1,210.9 L359.1,212.6 L360.1,214.3 L361.2,216.0 L362.2,217.6 L363.3,219.3 L364.4,220.9 L365.5,222.5 L366.7,224.2 L367.8,225.8 L369.0,227.3 L370.2,228.9 L371.4,230.5 L372.6,232.0 L373.9,233.6 L375.1,235.1 L376.4,236.6 L377.7,238.1 L379.0,239.6 L380.3,241.1 L381.7,242.6 L383.0,244.0 L384.4,245.5 L385.8,246.9 L387.2,248.3 L388.6,249.7 L390.1,251.1 L391.5,252.5 L393.0,253.8 L394.4,255.2 L395.9,256.5 L397.4,257.9 L398.9,259.2 L400.5,260.5 L402.0,261.8 L403.5,263.0 L405.1,264.3 L406.7,265.5 L408.3,266.8 L409.9,268.0 L411.5,269.2 L413.1,270.4 L414.7,271.6 L416.4,272.7 L418.0,273.9 L419.7,275.0 L421.3,276.2 L423.0,277.3 L424.7,278.4 L426.4,279.5 L428.1,280.5 L429.8,281.6 L431.6,282.6 L433.3,283.7 L435.0,284.7 L436.8,285.7 L438.6,286.7 L440.3,287.6 L442.1,288.6 L443.9,289.5 L445.7,290.5 L447.4,291.4 L449.2,292.3 L451.0,293.2 L452.9,294.0 L454.7,294.9 L456.5,295.7 L458.3,296.6 L460.2,297.4 L462.0,298.2 L463.8,299.0 L465.7,299.7 L467.5,300.5 L469.4,301.2 L471.2,302.0 L473.1,302.7 L475.0,303.4 L476.8,304.0 L478.7,304.7 L480.6,305.3 L482.5,306.0 L484.3,306.6 L486.2,307.2 L488.1,307.8 L490.0,308.4 L491.9,308.9 L493.7,309.5 L495.6,310.1 L497.5,310.6 L499.4,311.2 L501.3,311.7 L503.2,312.3 L505.1,312.8 L507.0,313.4 L508.9,313.9 L510.8,314.5 L512.7,315.0 L514.6,315.6 L516.6,316.2 L518.5,316.8 L520.4,317.3 L522.3,317.9 L524.2,318.5 L526.1,319.2 L528.1,319.8 L530.0,320.4 L531.9,321.0 L533.8,321.6 L535.8,322.2 L537.7,322.8 L539.6,323.4 L541.6,323.9 L543.5,324.5 L545.4,325.1 L547.4,325.6 L549.3,326.1 L551.3,326.6 L553.2,327.1 L555.1,327.6 L557.1,328.0 L559.0,328.5 L561.0,328.9 L562.9,329.3 L564.9,329.7 L566.8,330.0 L568.8,330.4 L570.8,330.7 L572.7,331.1 L574.7,331.4 L576.6,331.7 L578.6,331.9 L580.6,332.2 L582.5,332.5 L584.5,332.7 L586.5,332.9 L588.4,333.1 L590.4,333.3 L592.4,333.5 L594.3,333.7 L596.3,333.9 L598.3,334.1 L600.3,334.2 L602.2,334.4 L604.2,334.5 L606.2,334.6 L608.2,334.8 L610.2,334.9 L612.1,335.0 L614.1,335.1 L616.1,335.2 L618.1,335.3 L620.1,335.4 L622.1,335.4 L624.0,335.5 L626.0,335.6 L628.0,335.7 L630.0,335.7 L632.0,335.8 L634.0,335.8 L636.0,335.9 L638.0,335.9 L640.0,336.0 L642.0,336.0 L644.0,336.1 L646.0,336.1 L647.9,336.1 L649.9,336.2 L651.9,336.2 L653.9,336.2 L655.9,336.2 L657.9,336.3 L659.9,336.3 L661.9,336.3 L663.9,336.3 L665.9,336.3 L667.9,336.3 L669.9,336.3 L671.9,336.3 L673.9,336.3 L675.9,336.3 L678.0,336.3 L680.0,336.3 L682.0,336.3 L684.0,336.3 L686.0,336.2 L688.0,336.2 L690.0,336.2 L692.0,336.2 L694.0,336.1 L696.0,336.1 L698.0,336.1 L700.0,336.1 L702.0,336.0 L704.0,336.0 L706.0,336.0 L708.0,335.9 L710.0,335.9 L712.1,335.8 L714.1,335.8 L716.1,335.8 L718.1,335.7 L720.1,335.7 L722.1,335.6 L724.1,335.6 L726.1,335.5 L728.1,335.5 L730.1,335.4 L732.1,335.4 L734.1,335.3 L736.1,335.3 L738.1,335.2 L740.1,335.2 L742.2,335.1 L744.2,335.1 L746.2,335.0 L748.2,334.9 L750.2,334.9 L752.2,334.8 L754.2,334.8 L756.2,334.7 L758.2,334.7 L760.2,334.6 L762.2,334.5 L764.2,334.5 L766.2,334.4 L768.2,334.4 L770.2,334.3 L772.2,334.3 L774.2,334.2 L776.2,334.1 L778.2,334.1 L780.2,334.0 L782.2,334.0 L784.2,333.9 L786.2,333.9 L788.2,333.8 L790.2,333.7 L792.2,333.7 L794.2,333.6 L796.2,333.5 L798.2,333.4 L800.2,333.4 L802.2,333.3 L804.2,333.2 L806.2,333.1 L808.1,333.0 L810.1,332.9 L812.1,332.8 L814.1,332.7 L816.1,332.6 L818.1,332.5 L820.1,332.4 L822.1,332.3 L824.1,332.2 L826.1,332.0 L828.1,331.9 L830.1,331.8 L832.1,331.6 L834.0,331.5 L836.0,331.3 L838.0,331.1 L840.0,331.0 L842.0,330.8 L844.0,330.6 L846.0,330.4 L848.0,330.2 L850.0,330.0 L851.9,329.8 L853.9,329.6 L855.9,329.4 L857.9,329.2 L859.9,329.0 L861.9,328.9 L863.9,328.7 L865.9,328.5 L867.9,328.3 L869.8,328.1 L871.8,328.0 L873.8,327.8 L875.8,327.7 L877.8,327.6 L879.8,327.5 L881.8,327.4 L883.8,327.3 L885.7,327.2 L887.7,327.1 L889.7,327.0 L891.7,327.0 L893.7,326.9 L895.7,326.9 L897.7,326.9 L899.7,326.8 L901.7,326.8 L903.6,326.8 L905.6,326.8 L907.6,326.8 L909.6,326.7 L911.6,326.7 L913.6,326.7 L915.6,326.7 L917.6,326.7 L919.5,326.6 L921.5,326.6 L923.5,326.6 L925.5,326.5 L927.5,326.5 L929.5,326.5 L931.5,326.4 L933.5,326.4 L935.5,326.4 L937.5,326.3 L939.4,326.3 L941.4,326.2 L943.4,326.2 L945.4,326.1 L947.4,326.1 L949.4,326.0 L951.4,326.0 L953.4,325.9 L955.4,325.9 L957.4,325.8 L959.4,325.8 L961.4,325.7 L963.4,325.6 L965.3,325.6 L967.3,325.5 L969.3,325.5 L971.3,325.4 L973.3,325.4 L975.3,325.3 L977.3,325.2 L979.3,325.2 L981.3,325.1 L983.3,325.1 L985.3,325.0 L987.3,325.0 L989.3,324.9 L991.3,324.9 L993.3,324.8 L995.3,324.8 L997.3,324.7 L999.3,324.7 L1001.3,324.6 L1003.3,324.6 L1005.3,324.5 L1007.3,324.5 L1009.3,324.4 L1011.3,324.4 L1013.3,324.4 L1015.3,324.3 L1017.3,324.3 L1019.3,324.2 L1021.3,324.2 L1023.4,324.2 L1025.4,324.2 L1027.4,324.1 L1029.4,324.1 L1031.4,324.1 L1033.4,324.1 L1035.4,324.1 L1037.4,324.0 L1039.4,324.0 L1041.4,324.0 L1043.4,324.0 L1045.5,324.0 L1047.5,324.0 L1049.5,324.0 L1051.5,324.1 L1053.5,324.1 L1055.5,324.1 L1057.6,324.1 L1059.6,324.1 L1061.6,324.1 L1063.6,324.2 L1065.6,324.2 L1067.6,324.2 L1069.6,324.2 L1071.6,324.2 L1073.7,324.1 L1075.6,324.1 L1077.6,324.0 L1079.6,323.9 L1081.6,323.8 L1083.6,323.6 L1085.5,323.4 L1087.5,323.2 L1089.4,322.9 L1091.4,322.6 L1093.3,322.2 L1095.2,321.8 L1097.1,321.3 L1099.0,320.8 L1100.9,320.3 L1102.8,319.6 L1104.6,319.0 L1106.4,318.2 L1108.2,317.5 L1110.0,316.6 L1111.8,315.7 L1113.6,314.7 L1115.3,313.7 L1117.1,312.6 L1118.8,311.4 L1120.5,310.2 L1122.1,308.8 L1123.8,307.5 L1125.4,306.1 L1126.9,304.9 L1128.5,303.8 L1129.9,303.1 L1131.3,302.8 L1132.5,303.0 L1133.7,303.7 L1134.8,304.9 L1135.7,306.3 L1136.5,307.9 L1137.2,309.7 L1137.8,311.5 L1138.3,313.5 L1138.8,315.6 L1139.1,317.8 L1139.4,320.0 L1139.7,322.2 L1139.9,324.4 L1140.1,326.6 L1140.3,328.7 L1140.5,330.8 L1140.6,332.8 L1140.8,334.8 L1141.0,336.7 L1141.2,338.6 L1141.4,340.4 L1141.6,342.3 L1141.8,344.1 L1142.0,346.0 L1142.3,347.9 L1142.5,349.8 L1142.7,351.7 L1142.9,353.7 L1143.2,355.7 L1143.4,357.7 L1143.7,359.8 L1144.0,361.8 L1144.4,363.8 L1144.8,365.9 L1145.2,367.9 L1145.7,370.0 L1146.3,372.0 L1146.9,373.9 L1147.5,375.9 L1148.2,377.8 L1149.0,379.6 L1149.9,381.4 L1150.9,383.1 L1151.9,384.6 L1153.1,386.1 L1154.3,387.4 L1155.6,388.6 L1157.1,389.5 L1158.6,390.4 L1160.3,391.0 L1162.0,391.6 L1163.8,391.9 L1165.7,392.2 L1167.6,392.4 L1169.6,392.5 L1171.6,392.5 L1173.7,392.5 L1175.7,392.4 L1177.8,392.3 L1179.9,392.2 L1182.0,392.1 L1184.0,392.1 L1186.1,392.0 L1188.1,392.0 L1190.2,391.9 L1192.2,391.9 L1194.2,391.9 L1196.3,391.9 L1198.3,391.9 L1200.3,391.9 L1202.3,391.9 L1204.3,391.9 L1206.3,391.9 L1208.3,391.9 L1210.3,391.9 L1212.2,392.0 L1214.2,392.0 L1216.2,392.0 L1218.2,392.1 L1220.2,392.1 L1222.2,392.1 L1224.1,392.1 L1226.1,392.2 L1228.1,392.2 L1230.1,392.2 L1232.1,392.2 L1234.1,392.2 L1236.1,392.2 L1238.1,392.3 L1240.0,392.3 L1242.0,392.3 L1244.0,392.3 L1246.0,392.3 L1248.0,392.3 L1250.0,392.3 L1252.0,392.3 L1254.0,392.3 L1256.0,392.2 L1258.0,392.2 L1260.0,392.2 L1262.0,392.2 L1264.0,392.2 L1266.0,392.2 L1268.0,392.2 L1270.0,392.2 L1272.0,392.2 L1274.0,392.2 L1276.1,392.1 L1278.1,392.1 L1280.1,392.1 L1282.1,392.1 L1284.1,392.1 L1286.1,392.1 L1288.1,392.1 L1290.1,392.1 L1292.1,392.1 L1294.1,392.1 L1296.1,392.1 L1298.1,392.1 L1300.1,392.1 L1302.1,392.1 L1304.0,392.1 L1306.0,392.1 L1308.0,392.1 L1310.0,392.2 L1312.0,392.2 L1314.0,392.2" stroke="#0000ff" stroke-width="3.4" stroke-dasharray="13.3 11.6" stroke-dashoffset="7" fill="none"/>
<path d="M132.0,99.3 L134.0,99.2 L136.0,99.0 L138.0,98.9 L140.0,98.7 L142.0,98.6 L144.0,98.5 L146.0,98.4 L148.0,98.2 L150.0,98.1 L152.0,98.0 L154.0,97.9 L156.0,97.8 L158.0,97.6 L160.0,97.5 L162.0,97.4 L164.0,97.3 L166.0,97.2 L168.0,97.1 L170.0,97.0 L172.0,96.8 L174.0,96.7 L176.0,96.6 L178.0,96.5 L180.0,96.3 L182.0,96.2 L184.0,96.1 L186.0,95.9 L188.0,95.8 L190.0,95.7 L192.0,95.5 L194.0,95.4 L196.0,95.2 L198.0,95.1 L200.0,94.9 L202.0,94.7 L204.0,94.5 L206.0,94.4 L208.0,94.2 L210.0,94.0 L212.0,93.8 L214.0,93.6 L216.0,93.4 L218.0,93.1 L220.0,92.9 L222.0,92.7 L224.0,92.4 L226.0,92.1 L227.9,91.7 L229.9,91.3 L231.9,90.8 L233.8,90.4 L235.8,89.9 L237.8,89.4 L239.7,88.9 L241.7,88.4 L243.7,87.9 L245.7,87.5 L247.6,87.0 L249.6,86.6 L251.6,86.2 L253.5,85.8 L255.5,85.3 L257.4,84.9 L259.4,84.5 L261.4,84.1 L263.3,83.7 L265.3,83.3 L267.2,83.0 L269.2,82.7 L271.2,82.4 L273.2,82.1 L275.2,81.8 L277.2,81.5 L279.2,81.2 L281.2,80.9 L283.2,80.7 L285.2,80.4 L287.2,80.2 L289.2,80.1 L291.2,80.0 L293.2,80.0 L295.2,80.1 L297.3,80.2 L299.3,80.4 L301.3,80.7 L303.3,81.0 L305.3,81.4 L307.2,81.8 L309.0,82.5 L310.7,83.4 L312.5,84.5 L314.3,85.7 L316.1,86.9 L317.7,88.0 L319.4,89.2 L321.0,90.5 L322.7,91.7 L324.3,93.0 L325.9,94.2 L327.6,95.4 L329.2,96.6 L330.9,97.7 L332.5,98.9 L334.1,100.0 L335.8,101.2 L337.4,102.2 L339.1,103.3 L340.8,104.4 L342.6,105.6 L344.3,106.7 L346.1,107.8 L347.8,108.9 L349.6,109.9 L351.3,110.9 L353.1,111.8 L354.8,112.7 L356.6,113.5 L358.4,114.2 L360.1,114.9 L362.1,115.5 L364.1,116.1 L366.0,116.6 L368.0,117.0 L370.0,117.5 L371.9,117.9 L373.9,118.3 L375.9,118.8 L377.8,119.2 L379.8,119.7 L381.7,120.2 L383.7,120.7 L385.6,121.2 L387.6,121.8 L389.5,122.3 L391.5,122.9 L393.4,123.5 L395.4,124.1 L397.3,124.6 L398.6,126.1 L399.8,127.7 L400.9,129.3 L401.9,131.0 L402.9,132.7 L403.7,134.5 L404.5,136.3 L405.3,138.1 L406.0,140.0 L406.7,141.9 L407.4,143.8 L408.0,145.7 L408.6,147.6 L409.3,149.6 L409.9,151.5 L410.6,153.4 L411.2,155.3 L411.9,157.1 L412.6,159.0 L413.3,160.9 L414.1,162.7 L414.8,164.5 L415.6,166.4 L416.3,168.2 L417.1,170.0 L417.9,171.8 L418.7,173.7 L419.5,175.5 L420.3,177.3 L421.1,179.1 L422.0,180.9 L422.8,182.7 L423.7,184.5 L424.5,186.3 L425.4,188.1 L426.3,189.9 L427.2,191.7 L428.1,193.5 L429.0,195.2 L429.9,197.0 L430.9,198.8 L431.8,200.6 L432.8,202.3 L433.7,204.1 L434.7,205.9 L435.7,207.6 L436.7,209.4 L437.8,211.1 L438.8,212.8 L439.8,214.5 L440.9,216.3 L442.0,218.0 L443.1,219.6 L444.2,221.3 L445.3,223.0 L446.4,224.6 L447.5,226.3 L448.7,227.9 L449.9,229.5 L451.1,231.2 L452.3,232.7 L453.5,234.3 L454.7,235.9 L456.0,237.4 L457.2,239.0 L458.5,240.5 L459.8,242.0 L461.1,243.5 L462.5,245.0 L463.8,246.4 L465.2,247.9 L466.5,249.3 L467.9,250.7 L469.3,252.1 L470.8,253.5 L472.2,254.9 L473.6,256.2 L475.1,257.5 L476.6,258.9 L478.0,260.2 L479.5,261.5 L481.1,262.8 L482.6,264.0 L484.1,265.3 L485.7,266.5 L487.2,267.7 L488.8,268.9 L490.4,270.1 L492.0,271.3 L493.6,272.5 L495.2,273.6 L496.8,274.7 L498.5,275.9 L500.1,277.0 L501.8,278.1 L503.4,279.1 L505.1,280.2 L506.8,281.2 L508.5,282.3 L510.2,283.3 L511.9,284.3 L513.7,285.3 L515.4,286.3 L517.1,287.3 L518.9,288.3 L520.6,289.2 L522.4,290.2 L524.2,291.1 L526.0,292.1 L527.8,293.0 L529.6,294.0 L531.4,294.9 L533.2,295.8 L535.0,296.7 L536.8,297.7 L538.6,298.6 L540.5,299.5 L542.3,300.3 L544.1,301.2 L546.0,302.1 L547.9,302.9 L549.7,303.8 L551.6,304.6 L553.4,305.4 L555.3,306.1 L557.2,306.9 L559.1,307.6 L561.0,308.3 L562.9,309.0 L564.7,309.7 L566.6,310.3 L568.5,310.9 L570.5,311.5 L572.4,312.0 L574.3,312.5 L576.2,312.9 L578.1,313.4 L580.0,313.7 L582.0,314.1 L583.9,314.4 L585.8,314.8 L587.8,315.1 L589.7,315.4 L591.6,315.7 L593.6,316.0 L595.5,316.3 L597.5,316.6 L599.4,316.9 L601.4,317.2 L603.3,317.5 L605.3,317.8 L607.3,318.1 L609.2,318.4 L611.2,318.7 L613.2,318.9 L615.1,319.2 L617.1,319.5 L619.1,319.7 L621.1,320.0 L623.0,320.2 L625.0,320.5 L627.0,320.7 L629.0,320.9 L631.0,321.1 L633.0,321.3 L635.0,321.4 L636.9,321.6 L638.9,321.8 L640.9,321.9 L642.9,322.0 L644.9,322.2 L646.9,322.3 L648.9,322.4 L650.9,322.5 L652.9,322.6 L654.9,322.7 L656.9,322.8 L658.9,322.8 L660.9,322.9 L662.9,323.0 L664.9,323.0 L667.0,323.1 L669.0,323.1 L671.0,323.2 L673.0,323.2 L675.0,323.2 L677.0,323.2 L679.0,323.2 L681.0,323.3 L683.0,323.3 L685.0,323.3 L687.0,323.3 L689.0,323.3 L691.0,323.3 L693.0,323.3 L695.0,323.2 L697.1,323.2 L699.1,323.2 L701.1,323.2 L703.1,323.2 L705.1,323.2 L707.1,323.1 L709.1,323.1 L711.1,323.1 L713.1,323.1 L715.1,323.0 L717.1,323.0 L719.1,323.0 L721.1,322.9 L723.1,322.9 L725.1,322.9 L727.1,322.8 L729.1,322.8 L731.1,322.7 L733.1,322.7 L735.1,322.6 L737.0,322.6 L739.0,322.5 L741.0,322.5 L743.0,322.4 L745.0,322.4 L747.0,322.3 L749.0,322.2 L751.0,322.2 L753.0,322.1 L755.0,322.0 L757.0,322.0 L759.0,321.9 L761.0,321.8 L763.0,321.7 L765.0,321.7 L766.9,321.6 L768.9,321.5 L770.9,321.4 L772.9,321.3 L774.9,321.2 L776.9,321.1 L778.9,321.0 L780.9,320.9 L782.9,320.8 L784.9,320.7 L786.9,320.6 L788.9,320.5 L790.8,320.4 L792.8,320.3 L794.8,320.2 L796.8,320.1 L798.8,319.9 L800.8,319.8 L802.8,319.7 L804.8,319.6 L806.8,319.4 L808.8,319.3 L810.8,319.2 L812.7,319.0 L814.7,318.9 L816.7,318.7 L818.7,318.6 L820.7,318.4 L822.7,318.3 L824.7,318.1 L826.7,318.0 L828.7,317.8 L830.7,317.7 L832.7,317.5 L834.7,317.3 L836.7,317.2 L838.6,317.0 L840.6,316.8 L842.6,316.6 L844.6,316.5 L846.6,316.3 L848.6,316.1 L850.6,315.9 L852.6,315.7 L854.6,315.6 L856.6,315.4 L858.6,315.2 L860.6,315.0 L862.6,314.9 L864.6,314.7 L866.6,314.5 L868.6,314.3 L870.6,314.2 L872.6,314.0 L874.6,313.8 L876.6,313.7 L878.6,313.5 L880.6,313.3 L882.6,313.2 L884.6,313.0 L886.5,312.9 L888.5,312.7 L890.5,312.6 L892.5,312.5 L894.5,312.4 L896.5,312.2 L898.5,312.1 L900.5,312.0 L902.5,311.9 L904.5,311.8 L906.5,311.7 L908.5,311.6 L910.5,311.5 L912.5,311.5 L914.5,311.4 L916.5,311.3 L918.5,311.3 L920.5,311.2 L922.5,311.2 L924.5,311.1 L926.5,311.1 L928.5,311.0 L930.5,311.0 L932.5,311.0 L934.5,310.9 L936.5,310.9 L938.5,310.9 L940.4,310.9 L942.4,310.8 L944.4,310.8 L946.4,310.8 L948.4,310.8 L950.4,310.7 L952.4,310.7 L954.4,310.7 L956.4,310.7 L958.4,310.6 L960.4,310.6 L962.4,310.6 L964.4,310.5 L966.4,310.5 L968.3,310.5 L970.3,310.4 L972.3,310.4 L974.3,310.4 L976.3,310.3 L978.3,310.3 L980.3,310.2 L982.3,310.1 L984.3,310.1 L986.3,310.0 L988.2,309.9 L990.2,309.9 L992.2,309.8 L994.2,309.7 L996.2,309.7 L998.2,309.6 L1000.2,309.5 L1002.2,309.4 L1004.2,309.4 L1006.2,309.3 L1008.1,309.2 L1010.1,309.1 L1012.1,309.1 L1014.1,309.0 L1016.1,308.9 L1018.1,308.9 L1020.1,308.8 L1022.1,308.7 L1024.1,308.7 L1026.1,308.6 L1028.1,308.6 L1030.1,308.5 L1032.2,308.5 L1034.2,308.5 L1036.2,308.4 L1038.2,308.4 L1040.2,308.4 L1042.2,308.4 L1044.2,308.4 L1046.3,308.4 L1048.3,308.4 L1050.3,308.4 L1052.3,308.4 L1054.4,308.4 L1056.4,308.5 L1058.4,308.5 L1060.4,308.5 L1062.5,308.5 L1064.5,308.5 L1066.5,308.5 L1068.5,308.4 L1070.5,308.4 L1072.5,308.3 L1074.6,308.2 L1076.5,308.1 L1078.5,308.0 L1080.5,307.8 L1082.5,307.7 L1084.5,307.4 L1086.4,307.2 L1088.4,306.9 L1090.3,306.6 L1092.3,306.2 L1094.2,305.9 L1096.1,305.4 L1098.0,304.9 L1099.9,304.4 L1101.7,303.8 L1103.6,303.2 L1105.4,302.5 L1107.3,301.8 L1109.1,301.0 L1110.9,300.1 L1112.7,299.2 L1114.4,298.2 L1116.2,297.1 L1117.9,296.0 L1119.6,294.8 L1121.3,293.7 L1123.0,292.6 L1124.6,291.7 L1126.1,291.0 L1127.6,290.7 L1129.0,290.8 L1130.3,291.3 L1131.6,292.3 L1132.7,293.5 L1133.8,295.0 L1134.7,296.7 L1135.5,298.5 L1136.2,300.5 L1136.8,302.5 L1137.3,304.5 L1137.7,306.6 L1138.0,308.8 L1138.3,311.0 L1138.5,313.2 L1138.7,315.3 L1138.9,317.5 L1139.1,319.6 L1139.3,321.6 L1139.5,323.7 L1139.7,325.6 L1139.9,327.6 L1140.1,329.5 L1140.4,331.4 L1140.6,333.3 L1140.8,335.2 L1141.0,337.1 L1141.2,339.0 L1141.5,340.9 L1141.7,342.8 L1141.9,344.8 L1142.2,346.7 L1142.4,348.6 L1142.7,350.6 L1143.0,352.6 L1143.3,354.5 L1143.6,356.5 L1143.9,358.5 L1144.3,360.5 L1144.6,362.6 L1145.0,364.6 L1145.4,366.7 L1145.9,368.7 L1146.4,370.8 L1146.9,372.9 L1147.5,374.9 L1148.1,376.9 L1148.8,378.8 L1149.7,380.7 L1150.6,382.4 L1151.6,384.0 L1152.8,385.5 L1154.1,386.8 L1155.5,387.9 L1157.1,388.8 L1158.8,389.6 L1160.6,390.1 L1162.4,390.5 L1164.4,390.8 L1166.3,391.0 L1168.3,391.2 L1170.2,391.3 L1172.2,391.5 L1174.2,391.6 L1176.1,391.8 L1178.1,391.9 L1180.1,392.0 L1182.0,392.0 L1184.0,392.1 L1186.0,392.2 L1188.0,392.2 L1190.0,392.3 L1192.0,392.3 L1193.9,392.4 L1195.9,392.4 L1197.9,392.4 L1199.9,392.4 L1201.9,392.4 L1203.9,392.4 L1205.9,392.4 L1207.9,392.4 L1209.9,392.4 L1211.9,392.4 L1213.9,392.3 L1215.9,392.3 L1217.9,392.3 L1219.9,392.3 L1221.9,392.2 L1223.9,392.2 L1225.9,392.2 L1227.9,392.1 L1229.9,392.1 L1232.0,392.1 L1234.0,392.1 L1236.0,392.0 L1238.0,392.0 L1240.0,392.0 L1242.0,392.0 L1244.0,392.0 L1246.0,392.0 L1248.0,392.0 L1250.0,392.0 L1252.1,392.0 L1254.1,392.0 L1256.1,392.0 L1258.1,392.0 L1260.1,392.0 L1262.1,392.0 L1264.1,392.0 L1266.1,392.1 L1268.1,392.1 L1270.1,392.1 L1272.1,392.1 L1274.2,392.2 L1276.2,392.2 L1278.2,392.2 L1280.2,392.2 L1282.2,392.2 L1284.2,392.3 L1286.2,392.3 L1288.2,392.3 L1290.2,392.3 L1292.2,392.3 L1294.1,392.3 L1296.1,392.3 L1298.1,392.3 L1300.1,392.3 L1302.1,392.3 L1304.1,392.3 L1306.1,392.3 L1308.1,392.3 L1310.0,392.3 L1312.0,392.2 L1314.0,392.2" stroke="#0000ff" stroke-width="3.4" stroke-dasharray="12.9 2.7 6.6 2.7" stroke-dashoffset="6.5" fill="none"/>
<path d="M132.0,99.3 L134.0,99.2 L136.0,99.0 L138.0,98.9 L140.0,98.7 L142.0,98.6 L144.0,98.5 L146.0,98.4 L148.0,98.2 L150.0,98.1 L152.0,98.0 L154.0,97.9 L156.0,97.8 L158.0,97.6 L160.0,97.5 L162.0,97.4 L164.0,97.3 L166.0,97.2 L168.0,97.1 L170.0,97.0 L172.0,96.8 L174.0,96.7 L176.0,96.6 L178.0,96.5 L180.0,96.3 L182.0,96.2 L184.0,96.1 L186.0,95.9 L188.0,95.8 L190.0,95.7 L192.0,95.5 L194.0,95.4 L196.0,95.2 L198.0,95.1 L200.0,94.9 L202.0,94.7 L204.0,94.5 L206.0,94.4 L208.0,94.2 L210.0,94.0 L212.0,93.8 L214.0,93.6 L216.0,93.4 L218.0,93.1 L220.0,92.9 L222.0,92.7 L224.0,92.4 L226.0,92.1 L227.9,91.7 L229.9,91.3 L231.9,90.8 L233.8,90.4 L235.8,89.9 L237.8,89.4 L239.7,88.9 L241.7,88.4 L243.7,87.9 L245.7,87.5 L247.6,87.0 L249.6,86.6 L251.6,86.2 L253.5,85.8 L255.5,85.3 L257.4,84.9 L259.4,84.5 L261.4,84.1 L263.3,83.7 L265.3,83.3 L267.2,83.0 L269.2,82.7 L271.2,82.4 L273.2,82.1 L275.2,81.8 L277.2,81.5 L279.2,81.2 L281.2,80.9 L283.2,80.7 L285.2,80.4 L287.2,80.2 L289.2,80.1 L291.2,80.0 L293.2,80.0 L295.2,80.1 L297.3,80.2 L299.3,80.4 L301.3,80.7 L303.3,81.0 L305.3,81.4 L307.2,81.8 L309.0,82.5 L310.7,83.4 L312.5,84.5 L314.3,85.7 L316.1,86.9 L317.7,88.0 L319.4,89.2 L321.0,90.5 L322.7,91.7 L324.3,93.0 L325.9,94.2 L327.6,95.4 L329.2,96.6 L330.9,97.7 L332.5,98.9 L334.1,100.0 L335.8,101.2 L337.4,102.2 L339.1,103.3 L340.8,104.4 L342.6,105.6 L344.3,106.7 L346.1,107.8 L347.8,108.9 L349.6,109.9 L351.3,110.9 L353.1,111.8 L354.8,112.7 L356.6,113.5 L358.4,114.2 L360.1,114.9 L362.1,115.5 L364.1,116.1 L366.0,116.6 L368.0,117.0 L370.0,117.5 L371.9,117.9 L373.9,118.3 L375.9,118.8 L377.8,119.2 L379.8,119.7 L381.7,120.2 L383.7,120.7 L385.6,121.2 L387.6,121.8 L389.5,122.3 L391.5,122.9 L393.4,123.5 L395.4,124.1 L397.3,124.6 L399.3,125.2 L401.2,125.7 L403.1,126.2 L405.1,126.6 L407.1,127.0 L409.1,127.4 L411.1,127.8 L413.0,128.2 L415.0,128.6 L417.0,128.9 L419.0,129.3 L421.0,129.6 L423.0,130.0 L424.9,130.3 L426.9,130.6 L428.9,130.9 L430.9,131.2 L432.9,131.6 L434.9,131.9 L436.9,132.2 L438.8,132.5 L440.8,132.8 L442.8,133.1 L444.8,133.4 L446.8,133.7 L448.8,134.0 L450.8,134.3 L452.8,134.5 L454.7,134.8 L456.7,135.1 L458.7,135.3 L460.7,135.6 L462.7,135.8 L464.7,136.0 L466.7,136.3 L468.7,136.5 L470.7,136.8 L472.7,137.0 L474.7,137.2 L476.7,137.5 L478.7,137.7 L480.7,137.9 L482.7,138.1 L484.7,138.3 L486.7,138.5 L488.7,138.7 L490.1,140.2 L491.4,141.8 L492.7,143.4 L493.8,145.1 L494.9,146.7 L495.9,148.4 L496.9,150.0 L497.8,151.7 L498.6,153.5 L499.5,155.2 L500.2,156.9 L501.0,158.7 L501.8,160.5 L502.5,162.3 L503.2,164.0 L504.0,165.9 L504.8,167.7 L505.6,169.5 L506.4,171.3 L507.2,173.1 L508.0,175.0 L508.9,176.8 L509.8,178.6 L510.6,180.5 L511.5,182.3 L512.4,184.2 L513.3,186.0 L514.2,187.8 L515.1,189.7 L516.0,191.5 L516.9,193.3 L517.8,195.1 L518.7,196.9 L519.7,198.7 L520.6,200.5 L521.5,202.3 L522.5,204.0 L523.4,205.8 L524.3,207.6 L525.3,209.3 L526.3,211.0 L527.3,212.8 L528.2,214.5 L529.2,216.2 L530.3,217.9 L531.3,219.6 L532.3,221.2 L533.4,222.9 L534.5,224.5 L535.6,226.2 L536.7,227.8 L537.8,229.4 L539.0,231.0 L540.2,232.6 L541.4,234.2 L542.6,235.7 L543.8,237.3 L545.1,238.8 L546.4,240.3 L547.7,241.8 L549.0,243.3 L550.4,244.8 L551.8,246.2 L553.2,247.7 L554.7,249.1 L556.2,250.5 L557.7,251.9 L559.2,253.2 L560.8,254.5 L562.3,255.8 L563.9,257.1 L565.6,258.3 L567.2,259.5 L568.8,260.7 L570.5,261.8 L572.2,262.9 L573.9,263.9 L575.7,265.0 L577.4,265.9 L579.2,266.8 L580.9,267.7 L582.7,268.6 L584.5,269.3 L586.4,270.1 L588.2,270.8 L590.0,271.5 L591.9,272.1 L593.8,272.8 L595.6,273.4 L597.5,273.9 L599.4,274.5 L601.3,275.0 L603.2,275.6 L605.1,276.1 L607.0,276.6 L608.9,277.1 L610.9,277.6 L612.8,278.1 L614.7,278.5 L616.7,279.0 L618.6,279.5 L620.6,279.9 L622.5,280.3 L624.5,280.7 L626.5,281.2 L628.4,281.6 L630.4,281.9 L632.4,282.3 L634.3,282.7 L636.3,283.1 L638.3,283.4 L640.3,283.7 L642.3,284.1 L644.2,284.4 L646.2,284.7 L648.2,285.0 L650.2,285.3 L652.2,285.5 L654.2,285.8 L656.2,286.0 L658.2,286.3 L660.1,286.5 L662.1,286.7 L664.1,286.9 L666.1,287.1 L668.1,287.3 L670.1,287.5 L672.1,287.6 L674.1,287.8 L676.1,288.0 L678.1,288.1 L680.0,288.3 L682.0,288.4 L684.0,288.6 L686.0,288.7 L688.0,288.8 L690.0,289.0 L692.0,289.1 L694.0,289.2 L696.0,289.4 L698.0,289.5 L700.0,289.7 L702.0,289.8 L704.0,289.9 L706.0,290.1 L708.0,290.2 L709.9,290.4 L711.9,290.5 L713.9,290.7 L715.9,290.8 L717.9,291.0 L719.9,291.2 L721.9,291.3 L723.9,291.5 L725.9,291.7 L727.9,291.8 L729.9,292.0 L731.9,292.2 L733.9,292.3 L735.9,292.5 L737.9,292.6 L739.9,292.8 L741.9,292.9 L743.9,293.1 L745.9,293.2 L747.9,293.3 L749.8,293.4 L751.8,293.5 L753.8,293.6 L755.8,293.7 L757.8,293.8 L759.8,293.8 L761.8,293.9 L763.8,293.9 L765.8,293.9 L767.8,293.9 L769.8,293.9 L771.8,293.9 L773.8,293.9 L775.8,293.9 L777.8,293.8 L779.8,293.7 L781.8,293.7 L783.8,293.6 L785.7,293.5 L787.7,293.4 L789.7,293.3 L791.7,293.1 L793.7,293.0 L795.7,292.9 L797.7,292.7 L799.7,292.6 L801.7,292.4 L803.7,292.2 L805.7,292.0 L807.7,291.8 L809.7,291.6 L811.6,291.4 L813.6,291.2 L815.6,291.0 L817.6,290.8 L819.6,290.5 L821.6,290.3 L823.6,290.1 L825.6,289.8 L827.6,289.6 L829.5,289.3 L831.5,289.0 L833.5,288.8 L835.5,288.5 L837.5,288.2 L839.5,288.0 L841.5,287.7 L843.5,287.4 L845.4,287.1 L847.4,286.8 L849.4,286.6 L851.4,286.3 L853.4,286.0 L855.4,285.7 L857.4,285.4 L859.3,285.1 L861.3,284.8 L863.3,284.5 L865.3,284.3 L867.3,284.0 L869.3,283.7 L871.2,283.4 L873.2,283.1 L875.2,282.9 L877.2,282.6 L879.2,282.3 L881.1,282.1 L883.1,281.8 L885.1,281.6 L887.1,281.4 L889.0,281.2 L891.0,281.0 L893.0,280.8 L895.0,280.7 L897.0,280.5 L898.9,280.4 L900.9,280.3 L902.9,280.2 L904.9,280.2 L906.9,280.2 L908.8,280.1 L910.8,280.1 L912.8,280.1 L914.8,280.1 L916.8,280.2 L918.7,280.2 L920.7,280.2 L922.7,280.3 L924.7,280.3 L926.7,280.3 L928.6,280.3 L930.6,280.3 L932.6,280.4 L934.6,280.4 L936.6,280.3 L938.6,280.3 L940.6,280.3 L942.5,280.2 L944.5,280.2 L946.5,280.1 L948.5,280.0 L950.5,279.9 L952.5,279.8 L954.5,279.7 L956.5,279.6 L958.5,279.5 L960.5,279.4 L962.5,279.3 L964.5,279.1 L966.5,279.0 L968.5,278.9 L970.5,278.7 L972.5,278.6 L974.5,278.4 L976.5,278.3 L978.5,278.2 L980.5,278.0 L982.5,277.9 L984.5,277.8 L986.5,277.6 L988.5,277.5 L990.6,277.4 L992.6,277.3 L994.6,277.2 L996.6,277.1 L998.6,277.0 L1000.6,276.9 L1002.7,276.8 L1004.7,276.7 L1006.7,276.6 L1008.8,276.6 L1010.8,276.5 L1012.8,276.5 L1014.9,276.4 L1016.9,276.4 L1018.9,276.4 L1020.9,276.4 L1023.0,276.3 L1025.0,276.3 L1027.0,276.3 L1029.1,276.3 L1031.1,276.3 L1033.1,276.3 L1035.2,276.3 L1037.2,276.3 L1039.2,276.3 L1041.2,276.3 L1043.2,276.3 L1045.3,276.3 L1047.3,276.3 L1049.3,276.3 L1051.3,276.3 L1053.3,276.3 L1055.3,276.3 L1057.3,276.2 L1059.3,276.2 L1061.2,276.2 L1063.2,276.2 L1065.2,276.1 L1067.2,276.1 L1069.1,276.0 L1071.1,276.0 L1073.0,275.9 L1075.0,275.8 L1076.9,275.8 L1078.9,275.7 L1080.8,275.6 L1082.7,275.4 L1084.6,275.2 L1086.5,275.0 L1088.4,274.7 L1090.3,274.4 L1092.2,274.0 L1094.1,273.5 L1095.9,272.9 L1097.8,272.2 L1099.7,271.5 L1101.5,270.6 L1103.3,269.7 L1105.1,268.7 L1106.9,267.7 L1108.7,266.7 L1110.5,265.7 L1112.3,264.7 L1114.1,263.8 L1115.8,262.9 L1117.6,262.2 L1119.3,261.7 L1121.0,261.4 L1122.8,261.4 L1124.5,261.7 L1126.1,262.2 L1127.7,263.0 L1129.2,264.1 L1130.6,265.3 L1131.9,266.8 L1133.0,268.3 L1134.0,270.1 L1134.8,271.9 L1135.5,273.8 L1136.1,275.8 L1136.5,277.8 L1136.9,279.9 L1137.2,282.0 L1137.5,284.1 L1137.8,286.2 L1138.0,288.3 L1138.3,290.4 L1138.5,292.4 L1138.7,294.5 L1138.9,296.5 L1139.1,298.5 L1139.3,300.5 L1139.5,302.5 L1139.7,304.5 L1139.9,306.4 L1140.1,308.4 L1140.3,310.3 L1140.5,312.3 L1140.7,314.2 L1140.9,316.1 L1141.1,318.1 L1141.4,320.0 L1141.6,321.9 L1141.9,323.9 L1142.1,325.8 L1142.4,327.7 L1142.7,329.7 L1143.0,331.6 L1143.3,333.5 L1143.6,335.5 L1143.9,337.4 L1144.3,339.4 L1144.6,341.4 L1144.9,343.4 L1145.3,345.4 L1145.6,347.4 L1146.0,349.4 L1146.3,351.4 L1146.7,353.5 L1147.1,355.5 L1147.4,357.6 L1147.8,359.7 L1148.3,361.7 L1148.7,363.8 L1149.2,365.8 L1149.7,367.8 L1150.3,369.8 L1150.9,371.7 L1151.6,373.5 L1152.3,375.3 L1153.1,377.1 L1154.0,378.7 L1155.0,380.3 L1156.1,381.8 L1157.2,383.2 L1158.4,384.5 L1159.8,385.7 L1161.2,386.8 L1162.7,387.7 L1164.3,388.6 L1166.0,389.4 L1167.8,390.1 L1169.6,390.7 L1171.5,391.2 L1173.4,391.6 L1175.4,391.9 L1177.4,392.1 L1179.4,392.3 L1181.5,392.4 L1183.6,392.4 L1185.7,392.5 L1187.8,392.4 L1189.9,392.4 L1192.1,392.3 L1194.2,392.2 L1196.3,392.2 L1198.4,392.1 L1200.4,392.1 L1202.5,392.0 L1204.5,392.0 L1206.5,392.0 L1208.5,392.0 L1210.5,392.0 L1212.5,392.0 L1214.5,392.0 L1216.4,392.0 L1218.4,392.0 L1220.3,392.0 L1222.3,392.0 L1224.2,392.0 L1226.2,392.1 L1228.1,392.1 L1230.1,392.1 L1232.0,392.1 L1234.0,392.1 L1235.9,392.2 L1237.9,392.2 L1239.9,392.2 L1241.9,392.2 L1243.8,392.2 L1245.8,392.2 L1247.8,392.2 L1249.8,392.2 L1251.8,392.2 L1253.8,392.2 L1255.8,392.2 L1257.8,392.2 L1259.9,392.2 L1261.9,392.2 L1263.9,392.2 L1265.9,392.2 L1267.9,392.2 L1270.0,392.2 L1272.0,392.2 L1274.0,392.2 L1276.0,392.2 L1278.0,392.2 L1280.1,392.2 L1282.1,392.2 L1284.1,392.1 L1286.1,392.1 L1288.1,392.1 L1290.1,392.1 L1292.2,392.1 L1294.2,392.1 L1296.2,392.1 L1298.2,392.1 L1300.2,392.1 L1302.2,392.1 L1304.1,392.1 L1306.1,392.1 L1308.1,392.2 L1310.1,392.2 L1312.0,392.2 L1314.0,392.2" stroke="#0000ff" stroke-width="5.2" stroke-dasharray="5.5 4.8" stroke-dashoffset="2" fill="none"/>
<g transform="translate(0,524)">
<path d="M132.0,99.3 L133.5,99.2 L135.0,99.1 L136.5,99.0 L138.0,98.9 L139.5,98.7 L141.0,98.6 L142.5,98.5 L144.0,98.4 L145.5,98.3 L147.0,98.2 L148.5,98.0 L149.9,97.9 L151.4,97.8 L152.9,97.7 L154.4,97.6 L155.9,97.4 L157.4,97.3 L158.9,97.2 M185.0,95.1 L186.5,95.0 L188.0,94.8 L189.5,94.7 L191.0,94.6 L192.5,94.5 L194.0,94.4 L195.5,94.3 L197.0,94.2 L198.5,94.1 L200.0,94.0 L201.5,93.9 L203.0,93.8 L204.5,93.7 L206.0,93.6 L207.5,93.5 L209.0,93.4 L210.5,93.3 L212.0,93.2 M238.3,91.9 L239.8,91.8 L241.3,91.8 L242.8,91.7 L244.3,91.7 L245.8,91.6 L247.3,91.6 L248.8,91.5 L250.3,91.4 L251.8,91.4 L253.3,91.3 L254.8,91.3 L256.3,91.2 L257.8,91.1 L259.3,91.1 L260.8,91.0 L262.3,91.0 L263.8,90.9 L265.3,90.8 M291.5,89.5 L293.0,89.5 L294.5,89.4 L296.0,89.3 L297.5,89.2 L299.0,89.2 L300.5,89.1 L302.0,89.0 L303.5,89.0 L305.0,88.9 L306.5,88.8 L308.0,88.8 L309.5,88.7 L311.0,88.6 L312.5,88.5 L314.0,88.4 L315.5,88.4 L316.9,88.3 L318.4,88.2 M344.7,86.7 L346.2,86.7 L347.7,86.6 L349.2,86.6 L350.7,86.5 L352.2,86.5 L353.7,86.5 L355.2,86.4 L356.7,86.4 L358.2,86.3 L359.7,86.3 L361.2,86.3 L362.7,86.3 L364.2,86.2 L365.7,86.2 L367.2,86.2 L368.7,86.2 L370.2,86.2 L371.7,86.2 M397.8,86.5 L399.3,86.5 L400.8,86.5 L402.3,86.6 L403.8,86.6 L405.3,86.6 L406.8,86.6 L408.3,86.7 L409.8,86.7 L411.3,86.8 L412.8,86.8 L414.3,86.9 L415.8,87.0 L417.3,87.0 L418.8,87.1 L420.3,87.2 L421.8,87.2 L423.3,87.3 L424.8,87.4 M450.9,90.3 L452.4,90.6 L453.9,90.8 L455.4,91.0 L456.8,91.2 L458.3,91.5 L459.8,91.8 L461.3,92.1 L462.7,92.4 L464.2,92.7 L465.7,93.0 L467.1,93.3 L468.6,93.6 L470.1,94.0 L471.5,94.3 L473.0,94.7 L474.4,95.0 L475.9,95.4 L477.4,95.7 M502.6,103.2 L504.0,103.6 L505.4,104.1 L506.9,104.5 L508.3,105.0 L509.7,105.4 L511.1,105.9 L512.6,106.4 L514.0,106.8 L515.4,107.3 L516.9,107.7 L518.3,108.2 L519.7,108.6 L521.2,109.0 L522.6,109.4 L524.1,109.8 L525.5,110.2 L527.0,110.5 L528.4,110.9 M555.8,114.9 L557.3,115.0 L558.8,115.1 L560.3,115.2 L561.8,115.3 L563.3,115.4 L564.8,115.5 L566.3,115.6 L567.8,115.7 L569.3,115.7 L570.8,115.8 L572.3,115.9 L573.8,115.9 L575.3,115.9 L576.8,116.0 L578.3,116.0 L579.8,116.0 L581.3,116.0 L582.8,116.0 M608.4,114.6 L609.9,114.5 L611.3,114.4 L612.8,114.3 L614.3,114.2 L615.8,114.1 L617.3,114.0 L618.8,114.0 L620.3,113.9 L621.8,113.8 L623.3,113.7 L624.8,113.6 L626.3,113.6 L627.8,113.5 L629.3,113.4 L630.8,113.3 L632.3,113.2 L633.8,113.1 L635.3,113.1 M661.5,111.5 L663.0,111.4 L664.5,111.4 L666.0,111.3 L667.5,111.2 L669.0,111.1 L670.4,111.0 L671.9,110.9 L673.4,110.8 L674.9,110.7 L676.4,110.6 L677.9,110.5 L679.4,110.4 L680.9,110.3 L682.4,110.2 L683.9,110.1 L685.4,110.0 L686.9,109.9 L688.4,109.8 M714.7,107.9 L716.2,107.8 L717.7,107.7 L719.2,107.5 L720.7,107.4 L722.2,107.3 L723.7,107.2 L725.2,107.0 L726.7,106.9 L728.2,106.7 L729.7,106.6 L731.2,106.5 L732.7,106.3 L734.2,106.2 L735.7,106.0 L737.1,105.8 L738.6,105.7 L740.1,105.5 L741.6,105.3 M768.0,101.7 L769.5,101.5 L770.9,101.3 L772.4,101.0 L773.9,100.8 L775.4,100.5 L776.9,100.3 L778.3,100.1 L779.8,99.8 L781.3,99.6 L782.8,99.3 L784.3,99.1 L785.7,98.8 L787.2,98.5 L788.7,98.2 L790.1,97.9 L791.6,97.6 L793.1,97.3 L794.5,97.0 M821.2,91.3 L822.7,91.0 L824.2,90.7 L825.6,90.4 L827.1,90.0 L828.6,89.7 L830.0,89.4 L831.5,89.1 L833.0,88.8 L834.5,88.5 L835.9,88.3 L837.4,88.0 L838.9,87.8 L840.4,87.6 L841.9,87.5 L843.4,87.4 L844.9,87.3 L846.4,87.3 L847.9,87.4 M872.8,95.7 L874.0,96.6 L875.2,97.5 L876.5,98.3 L877.6,99.3 L878.7,100.3 L879.8,101.3 L880.9,102.4 L881.9,103.5 L882.9,104.6 L883.9,105.8 L884.9,106.9 L885.8,108.0 L886.8,109.1 L887.8,110.2 L888.9,111.3 L889.9,112.4 L891.0,113.4 L892.1,114.4 M914.3,129.0 L915.6,129.7 L917.0,130.4 L918.3,131.1 L919.7,131.7 L921.0,132.3 L922.4,133.0 L923.8,133.6 L925.1,134.2 L926.5,134.8 L927.9,135.4 L929.3,135.9 L930.7,136.4 L932.1,137.0 L933.5,137.4 L935.0,137.9 L936.4,138.4 L937.8,138.8 L939.3,139.2 M964.3,144.7 L965.7,145.0 L967.2,145.3 L968.7,145.7 L970.1,146.0 L971.6,146.4 L973.0,146.7 L974.5,147.0 L976.0,147.4 L977.4,147.7 L978.9,148.0 L980.4,148.4 L981.8,148.7 L983.3,149.1 L984.7,149.4 L986.2,149.8 L987.6,150.2 L989.1,150.6 L990.5,151.0 M1013.9,162.7 L1015.3,163.3 L1016.8,163.8 L1018.2,164.2 L1019.6,164.7 L1021.0,165.2 L1022.5,165.6 L1023.9,166.0 L1025.4,166.4 L1026.8,166.8 L1028.3,167.2 L1029.7,167.6 L1031.2,168.0 L1032.6,168.3 L1034.1,168.7 L1035.5,169.0 L1037.0,169.3 L1038.5,169.7 L1039.9,170.0 M1065.8,174.7 L1067.3,174.9 L1068.8,175.1 L1070.3,175.3 L1071.7,175.5 L1073.2,175.6 L1074.7,175.8 L1076.2,175.9 L1077.7,176.1 L1079.2,176.2 L1080.7,176.4 L1082.2,176.5 L1083.7,176.7 L1085.2,176.9 L1086.6,177.1 L1088.1,177.4 L1089.6,177.6 L1091.1,177.9 L1092.6,178.2 M1114.8,191.7 L1115.9,192.8 L1116.9,194.0 L1117.9,195.3 L1118.8,196.6 L1119.7,197.9 L1120.5,199.2 L1121.4,200.6 L1122.2,202.0 L1123.0,203.3 L1123.8,204.7 L1124.6,206.1 L1125.3,207.5 L1126.0,208.9 L1126.7,210.4 L1127.3,211.8 L1127.9,213.3 L1128.4,214.8 M1134.2,240.4 L1134.6,241.9 L1134.9,243.3 L1135.2,244.8 L1135.5,246.3 L1135.8,247.8 L1136.1,249.2 L1136.4,250.7 L1136.7,252.2 L1137.0,253.6 L1137.2,255.1 L1137.5,256.6 L1137.8,258.1 L1138.1,259.5 L1138.3,261.0 L1138.6,262.5 L1138.8,264.0 L1139.1,265.4 L1139.3,266.9 M1143.0,293.0 L1143.3,294.4 L1143.5,295.9 L1143.7,297.4 L1144.0,298.9 L1144.2,300.4 L1144.4,301.9 L1144.7,303.3 L1144.9,304.8 L1145.1,306.3 L1145.4,307.8 L1145.6,309.3 L1145.8,310.7 L1146.1,312.2 L1146.3,313.7 L1146.6,315.2 L1146.8,316.7 L1147.1,318.1 L1147.4,319.6 M1152.7,345.4 L1153.1,346.8 L1153.6,348.2 L1154.1,349.7 L1154.5,351.1 L1155.0,352.5 L1155.5,353.9 L1156.1,355.3 L1156.6,356.7 L1157.2,358.1 L1157.7,359.5 L1158.3,360.9 L1159.0,362.2 L1159.6,363.6 L1160.3,364.9 L1161.1,366.2 L1161.9,367.5 L1162.8,368.7 L1163.7,369.9 M1184.0,385.8 L1185.5,386.2 L1186.9,386.6 L1188.4,386.9 L1189.9,387.3 L1191.3,387.6 L1192.8,387.9 L1194.3,388.1 L1195.8,388.4 L1197.2,388.6 L1198.7,388.8 L1200.2,389.0 L1201.7,389.2 L1203.2,389.3 L1204.7,389.5 L1206.2,389.6 L1207.7,389.7 L1209.2,389.8 L1210.7,389.9 M1236.9,391.1 L1238.4,391.1 L1239.9,391.2 L1241.4,391.2 L1242.9,391.2 L1244.4,391.3 L1245.9,391.3 L1247.4,391.3 L1248.9,391.4 L1250.4,391.4 L1251.9,391.4 L1253.4,391.4 L1254.9,391.5 L1256.4,391.5 L1257.9,391.5 L1259.4,391.5 L1260.9,391.5 L1262.4,391.6 L1263.9,391.6 M1290.2,391.9 L1291.8,391.9 L1293.4,391.9 L1295.0,392.0 L1296.6,392.0 L1298.2,392.0 L1299.7,392.0 L1301.3,392.0 L1302.9,392.1 L1304.5,392.1 L1306.1,392.1 L1307.7,392.1 L1309.2,392.1 L1310.8,392.2 L1312.4,392.2 L1314.0,392.2" stroke="#808080" stroke-width="7" fill="none"/>
<path d="M132.0,99.3 L133.5,99.2 L135.0,99.1 L136.5,99.0 L138.0,98.9 L139.5,98.8 L141.0,98.7 L142.5,98.6 L144.0,98.5 L145.5,98.4 L147.0,98.3 L148.5,98.2 L150.0,98.1 L151.5,98.0 L153.0,97.9 L154.5,97.9 L156.0,97.8 L157.4,97.7 L158.9,97.6 M184.0,96.1 L185.6,96.0 L187.2,95.9 L188.8,95.8 L190.3,95.6 L191.9,95.5 L193.5,95.4 L195.1,95.3 L196.7,95.2 L198.3,95.0 L199.8,94.9 L201.4,94.8 L203.0,94.6 L204.6,94.5 L206.2,94.3 L207.7,94.2 L209.3,94.0 L210.9,93.9 M236.8,89.6 L238.3,89.2 L239.7,88.9 L241.2,88.5 L242.6,88.2 L244.1,87.8 L245.6,87.5 L247.0,87.2 L248.5,86.9 L250.0,86.5 L251.4,86.2 L252.9,85.9 L254.4,85.6 L255.8,85.2 L257.3,84.9 L258.8,84.6 L260.2,84.3 L261.7,84.0 L263.2,83.7 M290.0,80.1 L291.5,80.0 L293.0,80.0 L294.5,80.0 L296.0,80.1 L297.5,80.2 L299.0,80.4 L300.5,80.6 L302.0,80.8 L303.4,81.0 L304.9,81.3 L306.4,81.6 L307.8,82.0 L309.2,82.6 L310.5,83.3 L311.8,84.1 L313.1,84.9 L314.3,85.7 L315.6,86.5 M339.3,103.4 L340.5,104.2 L341.8,105.1 L343.1,105.9 L344.3,106.7 L345.6,107.5 L346.9,108.3 L348.2,109.0 L349.4,109.8 L350.7,110.6 L352.0,111.3 L353.4,112.0 L354.7,112.7 L356.1,113.3 L357.5,113.9 L358.9,114.4 L360.3,114.9 L361.7,115.4 L363.1,115.8 M389.5,122.3 L391.0,122.8 L392.4,123.2 L393.8,123.6 L395.3,124.0 L396.7,124.5 L398.2,124.9 L399.6,125.3 L401.1,125.6 L402.5,126.0 L404.0,126.4 L405.4,126.7 L406.9,127.0 L408.4,127.3 L409.8,127.6 L411.3,127.9 L412.8,128.2 L414.3,128.5 L415.7,128.7 M440.6,132.8 L442.1,133.0 L443.6,133.2 L445.1,133.4 L446.5,133.7 L448.0,133.9 L449.5,134.1 L451.0,134.3 L452.5,134.5 L454.0,134.7 L455.5,134.9 L457.0,135.1 L458.4,135.3 L459.9,135.5 L461.4,135.6 L462.9,135.8 L464.4,136.0 L465.9,136.2 L467.4,136.4 M494.6,139.1 L496.1,139.2 L497.6,139.3 L499.1,139.3 L500.6,139.4 L502.1,139.5 L503.6,139.5 L505.1,139.6 L506.6,139.6 L508.1,139.7 L509.6,139.7 L511.1,139.7 L512.6,139.8 L514.1,139.8 L515.6,139.9 L517.1,139.9 L518.6,140.0 L520.1,140.0 L521.6,140.1 M545.2,146.2 L546.4,147.1 L547.7,147.9 L548.9,148.8 L550.2,149.6 L551.4,150.4 L552.7,151.2 L553.9,152.0 L555.2,152.8 L556.5,153.5 L557.9,154.2 L559.2,154.9 L560.5,155.6 L561.9,156.2 L563.3,156.8 L564.7,157.3 L566.1,157.9 L567.5,158.4 L568.9,158.9 M596.8,166.7 L598.3,167.0 L599.7,167.3 L601.2,167.7 L602.7,168.0 L604.2,168.3 L605.6,168.5 L607.1,168.8 L608.6,169.1 L610.0,169.4 L611.5,169.6 L613.0,169.9 L614.5,170.1 L616.0,170.3 L617.5,170.6 L618.9,170.8 L620.4,171.0 L621.9,171.2 L623.4,171.4 M647.0,174.7 L648.5,174.8 L649.9,175.0 L651.4,175.1 L652.9,175.2 L654.4,175.3 L655.9,175.3 L657.4,175.4 L658.9,175.4 L660.4,175.4 L661.9,175.4 L663.4,175.4 L664.9,175.4 L666.4,175.3 L667.9,175.3 L669.4,175.3 L670.9,175.2 L672.4,175.2 L673.9,175.2 M700.1,173.9 L701.6,173.8 L703.1,173.7 L704.6,173.6 L706.1,173.5 L707.6,173.4 L709.1,173.3 L710.6,173.2 L712.1,173.2 L713.6,173.1 L715.1,173.0 L716.6,172.9 L718.1,172.8 L719.6,172.7 L721.1,172.6 L722.6,172.5 L724.1,172.5 L725.6,172.4 L727.1,172.3 M753.5,170.3 L755.0,170.2 L756.5,170.1 L758.0,169.9 L759.5,169.8 L761.0,169.6 L762.4,169.5 L763.9,169.3 L765.4,169.2 L766.9,169.0 L768.4,168.9 L769.9,168.7 L771.4,168.5 L772.9,168.3 L774.4,168.1 L775.8,167.9 L777.3,167.7 L778.8,167.4 L780.3,167.2 M806.6,162.1 L808.1,161.8 L809.5,161.4 L811.0,161.1 L812.4,160.8 L813.9,160.4 L815.4,160.1 L816.8,159.7 L818.3,159.4 L819.7,159.0 L821.2,158.7 L822.7,158.3 L824.1,157.9 L825.6,157.5 L827.0,157.1 L828.4,156.7 L829.9,156.3 L831.3,155.8 L832.7,155.4 M856.7,147.2 L858.1,146.7 L859.5,146.2 L860.9,145.8 L862.4,145.3 L863.8,144.8 L865.2,144.4 L866.7,144.0 L868.1,143.6 L869.6,143.2 L871.0,142.7 L872.4,142.3 L873.9,141.8 L875.3,141.4 L876.7,140.9 L878.1,140.4 L879.6,140.0 L881.0,139.6 L882.5,139.2 M909.4,142.4 L910.8,142.8 L912.2,143.2 L913.7,143.7 L915.1,144.1 L916.5,144.5 L918.0,144.9 L919.5,145.2 L920.9,145.5 L922.4,145.8 L923.9,146.0 L925.4,146.2 L926.9,146.5 L928.3,146.7 L929.8,146.9 L931.3,147.1 L932.8,147.3 L934.3,147.4 L935.8,147.6 M962.8,150.6 L964.3,150.8 L965.8,151.0 L967.3,151.2 L968.8,151.4 L970.2,151.6 L971.7,151.8 L973.2,152.0 L974.7,152.3 L976.2,152.5 L977.6,152.8 L979.1,153.1 L980.6,153.4 L982.0,153.7 L983.5,154.1 L985.0,154.4 L986.4,154.8 L987.9,155.2 L989.3,155.6 M1014.7,162.9 L1016.1,163.3 L1017.6,163.7 L1019.0,164.1 L1020.5,164.6 L1021.9,165.0 L1023.3,165.4 L1024.8,165.8 L1026.2,166.3 L1027.6,166.7 L1029.1,167.1 L1030.5,167.6 L1032.0,168.0 L1033.4,168.4 L1034.9,168.8 L1036.3,169.1 L1037.8,169.5 L1039.2,169.8 L1040.7,170.2 M1066.9,174.9 L1068.3,175.1 L1069.8,175.2 L1071.3,175.4 L1072.8,175.6 L1074.3,175.7 L1075.8,175.9 L1077.3,176.0 L1078.8,176.2 L1080.3,176.3 L1081.8,176.5 L1083.3,176.7 L1084.7,176.9 L1086.2,177.1 L1087.7,177.3 L1089.2,177.5 L1090.7,177.8 L1092.1,178.1 L1093.6,178.4 M1113.7,190.6 L1114.8,191.6 L1115.8,192.7 L1116.8,193.9 L1117.7,195.1 L1118.6,196.3 L1119.4,197.5 L1120.2,198.8 L1121.0,200.0 L1121.8,201.3 L1122.6,202.6 L1123.3,203.9 L1124.1,205.2 L1124.8,206.5 L1125.5,207.9 L1126.1,209.2 L1126.8,210.6 L1127.3,212.0 L1127.9,213.4 M1134.1,239.7 L1134.4,241.2 L1134.7,242.6 L1135.0,244.1 L1135.3,245.6 L1135.6,247.0 L1135.9,248.5 L1136.2,250.0 L1136.5,251.5 L1136.8,252.9 L1137.1,254.4 L1137.4,255.9 L1137.7,257.4 L1137.9,258.8 L1138.2,260.3 L1138.5,261.8 L1138.7,263.3 L1139.0,264.7 L1139.2,266.2 M1143.0,292.8 L1143.2,294.3 L1143.5,295.8 L1143.7,297.3 L1143.9,298.8 L1144.2,300.3 L1144.4,301.7 L1144.6,303.2 L1144.9,304.7 L1145.1,306.2 L1145.3,307.7 L1145.6,309.1 L1145.8,310.6 L1146.1,312.1 L1146.3,313.6 L1146.6,315.1 L1146.8,316.5 L1147.1,318.0 L1147.3,319.5 M1152.7,345.4 L1153.2,346.9 L1153.6,348.3 L1154.1,349.7 L1154.6,351.1 L1155.1,352.6 L1155.6,354.0 L1156.1,355.4 L1156.6,356.8 L1157.2,358.2 L1157.8,359.6 L1158.4,360.9 L1159.0,362.3 L1159.7,363.6 L1160.4,365.0 L1161.1,366.3 L1161.9,367.5 L1162.8,368.7 L1163.7,369.9 M1181.3,384.9 L1182.7,385.4 L1184.1,385.8 L1185.6,386.2 L1187.0,386.6 L1188.5,386.9 L1189.9,387.3 L1191.4,387.6 L1192.9,387.9 L1194.4,388.1 L1195.8,388.4 L1197.3,388.6 L1198.8,388.8 L1200.3,389.0 L1201.8,389.2 L1203.3,389.3 L1204.8,389.5 L1206.3,389.6 L1207.8,389.7 M1233.3,391.0 L1234.8,391.0 L1236.3,391.1 L1237.8,391.1 L1239.3,391.2 L1240.8,391.2 L1242.3,391.2 L1243.8,391.3 L1245.3,391.3 L1246.8,391.3 L1248.3,391.3 L1249.8,391.4 L1251.3,391.4 L1252.8,391.4 L1254.3,391.4 L1255.8,391.5 L1257.3,391.5 L1258.8,391.5 L1260.3,391.5 M1283.1,391.8 L1284.6,391.8 L1286.1,391.9 L1287.6,391.9 L1289.1,391.9 L1290.6,391.9 L1292.1,391.9 L1293.6,391.9 L1295.1,392.0 L1296.6,392.0 L1298.1,392.0 L1299.6,392.0 L1301.1,392.0 L1302.6,392.0 L1304.1,392.1 L1305.6,392.1 L1307.1,392.1 L1308.6,392.1 L1310.1,392.1" stroke="#000" stroke-width="7" fill="none"/>
<path d="M132.0,99.3 L134.0,99.2 L136.0,99.0 L138.0,98.9 L140.0,98.7 L142.0,98.6 L144.0,98.5 L146.0,98.4 L148.0,98.2 L150.0,98.1 L152.0,98.0 L154.0,97.9 L156.0,97.8 L158.0,97.6 L160.0,97.5 L162.0,97.4 L164.0,97.3 L166.0,97.2 L168.0,97.1 L170.0,97.0 L172.0,96.8 L174.0,96.7 L176.0,96.6 L178.0,96.5 L180.0,96.3 L182.0,96.2 L184.0,96.1 L186.0,95.9 L188.0,95.8 L190.0,95.7 L192.0,95.5 L194.0,95.4 L196.0,95.2 L198.0,95.1 L200.0,94.9 L202.0,94.7 L204.0,94.5 L206.0,94.4 L208.0,94.2 L210.0,94.0 L212.0,93.8 L214.0,93.6 L216.0,93.4 L218.0,93.1 L220.0,92.9 L222.0,92.7 L224.0,92.4 L226.0,92.1 L227.9,91.7 L229.9,91.3 L231.9,90.8 L233.8,90.4 L235.8,89.9 L237.8,89.4 L239.7,88.9 L241.7,88.4 L243.7,87.9 L245.7,87.5 L247.6,87.0 L249.6,86.6 L251.6,86.2 L253.5,85.8 L255.5,85.3 L257.4,84.9 L259.4,84.5 L261.4,84.1 L263.3,83.7 L265.3,83.3 L267.2,83.0 L269.2,82.7 L271.2,82.4 L273.2,82.1 L275.2,81.8 L277.2,81.5 L279.2,81.2 L281.2,80.9 L283.2,80.7 L285.2,80.4 L287.2,80.2 L289.2,80.1 L291.2,80.0 L293.2,80.0 L295.2,80.1 L297.3,80.2 L299.3,80.4 L301.3,80.7 L303.3,81.0 L305.3,81.4 L307.2,81.8 L309.0,82.5 L310.7,83.4 L312.5,84.5 L314.3,85.7 L316.1,86.9 L317.7,88.0 L319.4,89.2 L321.0,90.5 L322.7,91.7 L324.3,93.0 L325.9,94.2 L327.6,95.4 L329.2,96.6 L330.9,97.7 L332.5,98.9 L334.1,100.0 L335.8,101.2 L337.4,102.2 L339.1,103.3 L340.8,104.4 L342.6,105.6 L344.3,106.7 L346.1,107.8 L347.8,108.9 L349.6,109.9 L351.3,110.9 L353.1,111.8 L354.8,112.7 L356.6,113.5 L358.4,114.2 L360.1,114.9 L362.1,115.5 L364.1,116.1 L366.0,116.6 L368.0,117.0 L370.0,117.5 L371.9,117.9 L373.9,118.3 L375.9,118.8 L377.8,119.2 L379.8,119.7 L381.7,120.2 L383.7,120.7 L385.6,121.2 L387.6,121.8 L389.5,122.3 L391.5,122.9 L393.4,123.5 L395.4,124.1 L397.3,124.6 L399.3,125.2 L401.2,125.7 L403.1,126.2 L405.1,126.6 L407.1,127.0 L409.1,127.4 L411.1,127.8 L413.0,128.2 L415.0,128.6 L417.0,128.9 L419.0,129.3 L421.0,129.6 L423.0,130.0 L424.9,130.3 L426.9,130.6 L428.9,130.9 L430.9,131.2 L432.9,131.6 L434.9,131.9 L436.9,132.2 L438.8,132.5 L440.8,132.8 L442.8,133.1 L444.8,133.4 L446.8,133.7 L448.8,134.0 L450.8,134.3 L452.8,134.5 L454.7,134.8 L456.7,135.1 L458.7,135.3 L460.7,135.6 L462.7,135.8 L464.7,136.0 L466.7,136.3 L468.7,136.5 L470.7,136.8 L472.7,137.0 L474.7,137.2 L476.7,137.5 L478.7,137.7 L480.7,137.9 L482.7,138.1 L484.7,138.3 L486.7,138.5 L488.7,138.7 L490.6,138.9 L492.6,139.0 L494.6,139.1 L496.7,139.2 L498.7,139.3 L500.7,139.4 L502.7,139.5 L504.7,139.6 L506.7,139.6 L508.7,139.7 L510.7,139.7 L512.7,139.8 L514.7,139.8 L516.7,139.9 L518.7,140.0 L520.7,140.1 L522.7,140.2 L524.7,140.3 L526.7,140.4 L528.7,140.5 L530.7,140.7 L532.7,141.0 L534.8,141.4 L536.8,141.9 L538.6,142.6 L540.5,143.5 L542.3,144.5 L544.1,145.6 L545.8,146.6 L547.5,147.8 L549.2,148.9 L550.9,150.1 L552.6,151.2 L554.3,152.3 L556.1,153.3 L557.9,154.3 L559.7,155.2 L561.5,156.0 L563.4,156.8 L565.3,157.6 L567.2,158.3 L569.2,159.0 L571.1,159.7 L573.1,160.4 L575.0,161.0 L577.0,161.6 L578.9,162.2 L580.6,163.1 L582.3,164.2 L583.9,165.2 L585.6,166.3 L587.2,167.5 L588.8,168.6 L590.3,169.8 L591.9,171.1 L593.5,172.3 L595.0,173.6 L596.5,174.9 L598.1,176.2 L599.6,177.5 L601.1,178.7 L602.7,180.0 L604.2,181.3 L605.8,182.6 L607.3,183.9 L608.9,185.1 L610.5,186.3 L612.1,187.5 L613.7,188.7 L615.3,189.8 L617.0,190.9 L618.7,192.0 L620.4,193.0 L622.1,194.1 L623.8,195.1 L625.5,196.0 L627.3,197.0 L629.0,197.9 L630.8,198.8 L632.6,199.7 L634.4,200.6 L636.2,201.4 L638.0,202.2 L639.9,203.0 L641.7,203.8 L643.6,204.6 L645.4,205.3 L647.3,206.1 L649.1,206.8 L651.0,207.5 L652.9,208.2 L654.8,208.9 L656.6,209.6 L658.5,210.3 L660.4,210.9 L662.3,211.6 L664.2,212.2 L666.1,212.8 L668.0,213.4 L669.9,214.0 L671.8,214.6 L673.8,215.2 L675.7,215.8 L677.6,216.4 L679.5,216.9 L681.4,217.5 L683.4,218.0 L685.3,218.5 L687.2,219.1 L689.1,219.6 L691.1,220.1 L693.0,220.6 L695.0,221.1 L696.9,221.6 L698.8,222.1 L700.8,222.6 L702.7,223.1 L704.7,223.5 L706.6,224.0 L708.6,224.4 L710.5,224.9 L712.5,225.3 L714.4,225.8 L716.4,226.2 L718.3,226.7 L720.3,227.1 L722.2,227.5 L724.2,227.9 L726.1,228.4 L728.1,228.8 L730.1,229.2 L732.0,229.6 L734.0,230.0 L735.9,230.4 L737.9,230.8 L739.8,231.2 L741.8,231.6 L743.8,232.0 L745.7,232.4 L747.7,232.8 L749.6,233.2 L751.6,233.6 L753.5,234.0 L755.5,234.4 L757.4,234.8 L759.4,235.2 L761.4,235.6 L763.3,235.9 L765.3,236.3 L767.2,236.7 L769.2,237.1 L771.1,237.5 L773.0,237.9 L775.0,238.3 L776.9,238.7 L778.9,239.1 L780.8,239.6 L782.8,240.0 L784.7,240.4 L786.6,240.8 L788.6,241.2 L790.5,241.7 L792.4,242.1 L794.4,242.5 L796.3,243.0 L798.2,243.5 L800.2,243.9 L802.1,244.4 L804.0,244.9 L805.9,245.4 L807.9,245.9 L809.8,246.4 L811.7,247.0 L813.7,247.5 L815.6,248.1 L817.5,248.6 L819.4,249.2 L821.4,249.8 L823.3,250.4 L825.2,251.1 L827.1,251.7 L829.1,252.4 L831.0,253.1 L832.9,253.8 L834.8,254.5 L836.8,255.2 L838.7,255.9 L840.6,256.7 L842.5,257.4 L844.5,258.1 L846.4,258.8 L848.3,259.4 L850.3,260.0 L852.2,260.5 L854.1,261.0 L856.1,261.4 L858.0,261.7 L859.9,261.9 L861.9,262.1 L863.8,262.1 L865.7,262.0 L867.7,261.9 L869.6,261.6 L871.6,261.3 L873.5,261.0 L875.4,260.6 L877.4,260.3 L879.3,259.9 L881.3,259.6 L883.2,259.3 L885.2,259.1 L887.2,258.8 L889.1,258.6 L891.1,258.4 L893.0,258.3 L895.0,258.1 L897.0,258.0 L898.9,257.9 L900.9,257.8 L902.9,257.8 L904.9,257.7 L906.8,257.7 L908.8,257.7 L910.8,257.6 L912.8,257.6 L914.7,257.7 L916.7,257.7 L918.7,257.7 L920.7,257.7 L922.7,257.7 L924.7,257.8 L926.7,257.8 L928.7,257.8 L930.7,257.8 L932.7,257.9 L934.7,257.9 L936.6,257.9 L938.6,257.9 L940.6,257.9 L942.6,257.8 L944.6,257.8 L946.6,257.7 L948.7,257.7 L950.7,257.6 L952.7,257.5 L954.7,257.4 L956.7,257.2 L958.7,257.1 L960.7,257.0 L962.7,256.8 L964.7,256.6 L966.7,256.5 L968.7,256.3 L970.7,256.1 L972.7,255.9 L974.7,255.8 L976.8,255.6 L978.8,255.4 L980.8,255.2 L982.8,255.0 L984.8,254.8 L986.8,254.7 L988.8,254.5 L990.8,254.3 L992.8,254.2 L994.8,254.0 L996.8,253.9 L998.8,253.8 L1000.9,253.6 L1002.9,253.5 L1004.9,253.4 L1006.9,253.4 L1008.9,253.3 L1010.9,253.2 L1012.9,253.2 L1014.9,253.1 L1016.9,253.1 L1018.9,253.1 L1020.9,253.0 L1022.9,253.0 L1024.9,253.0 L1026.9,253.0 L1028.9,253.0 L1030.9,253.0 L1032.9,253.0 L1034.9,253.0 L1036.9,253.0 L1038.9,253.0 L1040.9,253.1 L1042.8,253.1 L1044.8,253.1 L1046.8,253.1 L1048.8,253.1 L1050.8,253.1 L1052.8,253.1 L1054.8,253.1 L1056.7,253.1 L1058.7,253.1 L1060.7,253.1 L1062.7,253.1 L1064.6,253.1 L1066.6,253.0 L1068.6,253.0 L1070.5,252.9 L1072.5,252.8 L1074.5,252.6 L1076.4,252.4 L1078.4,252.2 L1080.4,251.9 L1082.3,251.6 L1084.3,251.2 L1086.2,250.8 L1088.2,250.3 L1090.1,249.8 L1092.1,249.2 L1094.0,248.5 L1096.0,247.9 L1097.9,247.2 L1099.8,246.5 L1101.8,245.8 L1103.7,245.2 L1105.6,244.5 L1107.6,243.9 L1109.5,243.3 L1111.4,242.8 L1113.3,242.4 L1115.2,242.0 L1117.1,241.8 L1118.9,241.8 L1120.7,242.0 L1122.4,242.4 L1124.0,243.1 L1125.5,244.0 L1126.9,245.2 L1128.2,246.5 L1129.3,248.0 L1130.3,249.7 L1131.2,251.5 L1132.0,253.4 L1132.6,255.4 L1133.2,257.4 L1133.7,259.4 L1134.1,261.4 L1134.5,263.5 L1134.9,265.5 L1135.2,267.5 L1135.4,269.5 L1135.7,271.5 L1136.0,273.5 L1136.2,275.5 L1136.4,277.5 L1136.7,279.5 L1136.9,281.5 L1137.1,283.5 L1137.3,285.5 L1137.5,287.5 L1137.7,289.5 L1138.0,291.4 L1138.2,293.4 L1138.4,295.4 L1138.6,297.4 L1138.8,299.3 L1139.1,301.3 L1139.3,303.3 L1139.5,305.2 L1139.8,307.2 L1140.1,309.2 L1140.3,311.1 L1140.6,313.1 L1140.9,315.1 L1141.2,317.0 L1141.5,319.0 L1141.9,321.0 L1142.2,322.9 L1142.6,324.9 L1142.9,326.9 L1143.3,328.8 L1143.6,330.8 L1144.0,332.8 L1144.3,334.8 L1144.7,336.8 L1145.0,338.7 L1145.3,340.7 L1145.6,342.7 L1145.9,344.7 L1146.2,346.7 L1146.5,348.6 L1146.7,350.6 L1147.0,352.6 L1147.3,354.6 L1147.6,356.6 L1147.9,358.5 L1148.3,360.5 L1148.7,362.5 L1149.1,364.4 L1149.6,366.4 L1150.2,368.3 L1150.9,370.2 L1151.6,372.1 L1152.5,374.1 L1153.4,375.9 L1154.4,377.8 L1155.5,379.5 L1156.6,381.2 L1157.9,382.7 L1159.2,384.2 L1160.5,385.4 L1162.0,386.5 L1163.5,387.5 L1165.1,388.4 L1166.7,389.1 L1168.4,389.7 L1170.1,390.2 L1171.9,390.7 L1173.7,391.0 L1175.6,391.4 L1177.5,391.6 L1179.5,391.8 L1181.4,392.0 L1183.4,392.1 L1185.5,392.2 L1187.5,392.2 L1189.6,392.2 L1191.6,392.2 L1193.7,392.2 L1195.8,392.2 L1197.8,392.2 L1199.9,392.2 L1202.0,392.1 L1204.0,392.1 L1206.1,392.1 L1208.1,392.1 L1210.1,392.1 L1212.2,392.1 L1214.2,392.1 L1216.2,392.1 L1218.3,392.1 L1220.3,392.0 L1222.3,392.0 L1224.3,392.0 L1226.3,392.0 L1228.3,392.0 L1230.3,392.0 L1232.3,392.0 L1234.3,392.0 L1236.3,392.1 L1238.3,392.1 L1240.3,392.1 L1242.3,392.1 L1244.2,392.1 L1246.2,392.1 L1248.2,392.1 L1250.2,392.1 L1252.2,392.1 L1254.1,392.1 L1256.1,392.1 L1258.1,392.1 L1260.1,392.1 L1262.0,392.2 L1264.0,392.2 L1266.0,392.2 L1268.0,392.2 L1270.0,392.2 L1271.9,392.2 L1273.9,392.2 L1275.9,392.2 L1277.9,392.2 L1279.9,392.2 L1281.9,392.2 L1283.8,392.2 L1285.8,392.2 L1287.8,392.2 L1289.8,392.3 L1291.8,392.3 L1293.8,392.3 L1295.8,392.3 L1297.8,392.3 L1299.8,392.3 L1301.8,392.2 L1303.9,392.2 L1305.9,392.2 L1307.9,392.2 L1309.9,392.2 L1312.0,392.2 L1314.0,392.2" stroke="#ff0000" stroke-width="3.4" fill="none"/>
<path d="M132.0,99.3 L134.0,99.2 L136.0,99.0 L138.0,98.9 L140.0,98.7 L142.0,98.6 L144.0,98.5 L146.0,98.4 L148.0,98.2 L150.0,98.1 L152.0,98.0 L154.0,97.9 L156.0,97.8 L158.0,97.6 L160.0,97.5 L162.0,97.4 L164.0,97.3 L166.0,97.2 L168.0,97.1 L170.0,97.0 L172.0,96.8 L174.0,96.7 L176.0,96.6 L178.0,96.5 L180.0,96.3 L182.0,96.2 L184.0,96.1 L186.0,95.9 L188.0,95.8 L190.0,95.7 L192.0,95.5 L194.0,95.4 L196.0,95.2 L198.0,95.1 L200.0,94.9 L202.0,94.7 L204.0,94.5 L206.0,94.4 L208.0,94.2 L210.0,94.0 L212.0,93.8 L214.0,93.6 L216.0,93.4 L218.0,93.1 L220.0,92.9 L222.0,92.7 L224.0,92.4 L226.0,92.1 L227.9,91.7 L229.9,91.3 L231.9,90.8 L233.8,90.4 L235.8,89.9 L237.8,89.4 L239.7,88.9 L241.7,88.4 L243.7,87.9 L245.7,87.5 L247.6,87.0 L249.6,86.6 L251.6,86.2 L253.5,85.8 L255.5,85.3 L257.4,84.9 L259.4,84.5 L261.4,84.1 L263.3,83.7 L265.3,83.3 L267.2,83.0 L269.2,82.7 L271.2,82.4 L273.2,82.1 L275.2,81.8 L277.2,81.5 L279.2,81.2 L281.2,80.9 L283.2,80.7 L285.2,80.4 L287.2,80.2 L289.2,80.1 L291.2,80.0 L293.2,80.0 L295.2,80.1 L297.3,80.2 L299.3,80.4 L301.3,80.7 L303.3,81.0 L305.3,81.4 L307.2,81.8 L309.0,82.5 L310.7,83.4 L312.5,84.5 L314.3,85.7 L316.1,86.9 L317.7,88.0 L319.4,89.2 L321.0,90.5 L322.7,91.7 L324.3,93.0 L325.9,94.2 L327.6,95.4 L329.2,96.6 L330.9,97.7 L332.5,98.9 L334.1,100.0 L335.8,101.2 L337.4,102.2 L339.1,103.3 L340.8,104.4 L342.6,105.6 L344.3,106.7 L346.1,107.8 L347.8,108.9 L349.6,109.9 L351.3,110.9 L353.1,111.8 L354.8,112.7 L356.6,113.5 L358.4,114.2 L360.1,114.9 L362.1,115.5 L364.1,116.1 L366.0,116.6 L368.0,117.0 L370.0,117.5 L371.9,117.9 L373.9,118.3 L375.9,118.8 L377.8,119.2 L379.8,119.7 L381.7,120.2 L383.7,120.7 L385.6,121.2 L387.6,121.8 L389.5,122.3 L391.5,122.9 L393.4,123.5 L395.4,124.1 L397.3,124.6 L399.3,125.2 L401.2,125.7 L403.1,126.2 L405.1,126.6 L407.1,127.0 L409.1,127.4 L411.1,127.8 L413.0,128.2 L415.0,128.6 L417.0,128.9 L419.0,129.3 L421.0,129.6 L423.0,130.0 L424.9,130.3 L426.9,130.6 L428.9,130.9 L430.9,131.2 L432.9,131.6 L434.9,131.9 L436.9,132.2 L438.8,132.5 L440.8,132.8 L442.8,133.1 L444.8,133.4 L446.8,133.7 L448.8,134.0 L450.8,134.3 L452.8,134.5 L454.7,134.8 L456.7,135.1 L458.7,135.3 L460.7,135.6 L462.7,135.8 L464.7,136.0 L466.7,136.3 L468.7,136.5 L470.7,136.8 L472.7,137.0 L474.7,137.2 L476.7,137.5 L478.7,137.7 L480.7,137.9 L482.7,138.1 L484.7,138.3 L486.7,138.5 L488.7,138.7 L490.6,138.9 L492.6,139.0 L494.6,139.1 L496.7,139.2 L498.7,139.3 L500.7,139.4 L502.7,139.5 L504.7,139.6 L506.7,139.6 L508.7,139.7 L510.7,139.7 L512.7,139.8 L514.7,139.8 L516.7,139.9 L518.7,140.0 L520.7,140.1 L522.7,140.2 L524.7,140.3 L526.7,140.4 L528.7,140.5 L530.7,140.7 L532.7,141.0 L534.8,141.4 L536.8,141.9 L538.6,142.6 L540.5,143.5 L542.3,144.5 L544.1,145.6 L545.8,146.6 L547.5,147.8 L549.2,148.9 L550.9,150.1 L552.6,151.2 L554.3,152.3 L556.1,153.3 L557.9,154.3 L559.7,155.2 L561.5,156.0 L563.4,156.8 L565.3,157.6 L567.2,158.3 L569.2,159.0 L571.1,159.7 L573.1,160.4 L575.0,161.0 L577.0,161.6 L578.9,162.2 L580.9,162.7 L582.8,163.3 L584.8,163.8 L586.7,164.3 L588.7,164.7 L590.6,165.2 L592.6,165.7 L594.5,166.2 L596.5,166.6 L598.5,167.1 L600.5,167.5 L602.5,167.9 L604.5,168.3 L606.5,168.7 L608.5,169.1 L610.5,169.4 L612.5,169.8 L614.4,170.1 L616.4,170.4 L618.4,170.7 L620.4,171.0 L622.4,171.2 L624.4,171.5 L626.4,171.8 L628.4,172.1 L630.4,172.4 L632.4,172.7 L634.4,173.0 L636.4,173.3 L638.4,173.6 L640.3,173.9 L642.3,174.2 L644.3,174.4 L646.3,174.6 L648.3,174.8 L650.3,175.0 L652.3,175.1 L654.3,175.3 L656.3,175.3 L658.3,175.4 L660.3,175.4 L662.3,175.4 L664.3,175.4 L666.3,175.3 L668.3,175.4 L670.3,175.5 L672.2,175.6 L674.2,175.8 L676.1,176.1 L678.1,176.4 L680.0,176.8 L681.9,177.3 L683.9,177.7 L685.8,178.3 L687.7,178.8 L689.6,179.4 L691.5,180.0 L693.4,180.7 L695.3,181.4 L697.2,182.0 L699.1,182.8 L700.9,183.5 L702.8,184.2 L704.7,184.9 L706.6,185.7 L708.4,186.4 L710.3,187.1 L712.1,187.8 L714.0,188.6 L715.9,189.3 L717.7,190.0 L719.6,190.7 L721.4,191.4 L723.3,192.1 L725.1,192.8 L727.0,193.5 L728.9,194.2 L730.7,195.0 L732.6,195.7 L734.4,196.3 L736.3,197.0 L738.1,197.7 L740.0,198.4 L741.9,199.1 L743.7,199.8 L745.6,200.5 L747.5,201.2 L749.3,201.8 L751.2,202.5 L753.1,203.2 L755.0,203.8 L756.9,204.5 L758.8,205.2 L760.6,205.8 L762.5,206.5 L764.4,207.2 L766.3,207.8 L768.2,208.5 L770.1,209.1 L772.0,209.8 L773.9,210.5 L775.8,211.1 L777.7,211.8 L779.6,212.5 L781.5,213.1 L783.4,213.8 L785.3,214.5 L787.2,215.2 L789.1,215.9 L791.0,216.5 L792.9,217.2 L794.8,217.9 L796.7,218.6 L798.6,219.4 L800.4,220.1 L802.3,220.8 L804.2,221.5 L806.0,222.3 L807.9,223.0 L809.8,223.8 L811.6,224.5 L813.5,225.3 L815.3,226.1 L817.1,226.9 L819.0,227.7 L820.8,228.5 L822.6,229.3 L824.4,230.2 L826.2,231.0 L828.0,231.9 L829.8,232.7 L831.6,233.6 L833.4,234.5 L835.1,235.4 L836.9,236.3 L838.6,237.3 L840.4,238.2 L842.1,239.2 L843.8,240.2 L845.5,241.2 L847.2,242.2 L848.9,243.2 L850.6,244.2 L852.3,245.2 L854.0,246.3 L855.6,247.4 L857.3,248.4 L859.0,249.5 L860.6,250.6 L862.3,251.7 L863.9,252.8 L865.6,253.9 L867.2,255.0 L868.9,256.1 L870.5,257.2 L872.1,258.4 L873.8,259.5 L875.4,260.7 L877.0,261.8 L878.6,263.0 L880.3,264.1 L881.9,265.3 L883.5,266.4 L885.2,267.6 L886.8,268.8 L888.4,269.9 L890.1,271.1 L891.7,272.3 L893.3,273.4 L895.0,274.6 L896.6,275.8 L898.2,276.9 L899.9,278.1 L901.5,279.3 L903.2,280.4 L904.9,281.6 L906.5,282.7 L908.2,283.9 L909.9,285.0 L911.6,286.2 L913.3,287.3 L915.0,288.4 L916.7,289.6 L918.4,290.6 L920.1,291.7 L921.8,292.8 L923.6,293.8 L925.3,294.8 L927.1,295.8 L928.8,296.7 L930.6,297.6 L932.4,298.4 L934.2,299.2 L936.0,300.0 L937.8,300.7 L939.6,301.4 L941.5,302.0 L943.3,302.5 L945.2,303.0 L947.0,303.4 L948.9,303.7 L950.8,304.0 L952.7,304.2 L954.7,304.4 L956.6,304.4 L958.6,304.5 L960.5,304.4 L962.5,304.4 L964.5,304.3 L966.5,304.2 L968.5,304.1 L970.5,303.9 L972.5,303.8 L974.5,303.7 L976.5,303.6 L978.5,303.5 L980.6,303.4 L982.6,303.3 L984.6,303.3 L986.7,303.2 L988.7,303.2 L990.8,303.2 L992.8,303.2 L994.8,303.2 L996.9,303.2 L998.9,303.1 L1000.9,303.1 L1003.0,303.1 L1005.0,303.1 L1007.0,303.1 L1009.0,303.1 L1011.1,303.1 L1013.1,303.0 L1015.1,303.0 L1017.1,303.0 L1019.1,303.0 L1021.1,302.9 L1023.1,302.9 L1025.1,302.9 L1027.1,302.9 L1029.1,302.8 L1031.1,302.8 L1033.1,302.8 L1035.1,302.8 L1037.1,302.7 L1039.1,302.7 L1041.1,302.7 L1043.0,302.7 L1045.0,302.6 L1047.0,302.6 L1049.0,302.6 L1051.0,302.6 L1052.9,302.6 L1054.9,302.6 L1056.9,302.6 L1058.9,302.5 L1060.8,302.5 L1062.8,302.5 L1064.8,302.5 L1066.8,302.4 L1068.7,302.4 L1070.7,302.3 L1072.7,302.2 L1074.6,302.1 L1076.6,301.9 L1078.6,301.8 L1080.5,301.6 L1082.5,301.4 L1084.5,301.1 L1086.4,300.8 L1088.4,300.5 L1090.4,300.2 L1092.3,299.8 L1094.3,299.3 L1096.3,298.9 L1098.2,298.3 L1100.2,297.8 L1102.2,297.1 L1104.1,296.4 L1106.0,295.7 L1107.9,294.9 L1109.8,294.1 L1111.7,293.2 L1113.5,292.2 L1115.2,291.2 L1117.0,290.1 L1118.6,288.9 L1120.2,287.7 L1121.8,286.4 L1123.3,285.3 L1124.7,284.6 L1126.0,284.9 L1127.3,285.9 L1128.5,287.4 L1129.6,289.2 L1130.6,291.1 L1131.5,293.1 L1132.3,295.1 L1133.0,297.1 L1133.7,299.1 L1134.3,301.0 L1134.8,303.0 L1135.2,305.0 L1135.6,306.9 L1136.0,308.9 L1136.3,310.8 L1136.6,312.7 L1136.9,314.7 L1137.2,316.6 L1137.5,318.6 L1137.8,320.5 L1138.1,322.5 L1138.4,324.4 L1138.8,326.4 L1139.2,328.4 L1139.5,330.3 L1139.9,332.3 L1140.3,334.3 L1140.7,336.3 L1141.1,338.2 L1141.5,340.2 L1141.8,342.2 L1142.2,344.2 L1142.5,346.1 L1142.9,348.1 L1143.2,350.1 L1143.5,352.0 L1143.8,354.0 L1144.2,356.0 L1144.5,357.9 L1144.9,359.9 L1145.3,361.8 L1145.8,363.7 L1146.3,365.7 L1146.8,367.6 L1147.4,369.5 L1148.1,371.5 L1148.8,373.4 L1149.6,375.3 L1150.5,377.1 L1151.5,378.9 L1152.5,380.6 L1153.6,382.3 L1154.8,383.8 L1156.1,385.2 L1157.5,386.5 L1159.0,387.6 L1160.6,388.5 L1162.3,389.3 L1164.0,389.9 L1165.9,390.5 L1167.8,390.9 L1169.7,391.2 L1171.7,391.4 L1173.8,391.6 L1175.8,391.7 L1177.9,391.7 L1180.0,391.8 L1182.0,391.8 L1184.1,391.8 L1186.2,391.8 L1188.2,391.8 L1190.2,391.8 L1192.2,391.9 L1194.3,391.9 L1196.3,391.9 L1198.2,391.9 L1200.2,392.0 L1202.2,392.0 L1204.2,392.0 L1206.2,392.0 L1208.2,392.1 L1210.1,392.1 L1212.1,392.1 L1214.1,392.1 L1216.1,392.1 L1218.1,392.1 L1220.1,392.2 L1222.1,392.2 L1224.1,392.2 L1226.0,392.2 L1228.0,392.2 L1230.0,392.2 L1232.0,392.2 L1234.0,392.2 L1236.0,392.2 L1238.0,392.2 L1240.0,392.2 L1242.0,392.2 L1244.0,392.2 L1246.0,392.2 L1248.0,392.2 L1250.0,392.2 L1252.0,392.2 L1254.0,392.2 L1256.0,392.2 L1258.0,392.2 L1260.0,392.2 L1262.0,392.2 L1264.0,392.2 L1266.0,392.2 L1268.0,392.2 L1270.0,392.2 L1272.0,392.2 L1274.0,392.1 L1276.0,392.1 L1278.0,392.1 L1280.0,392.1 L1282.0,392.1 L1284.0,392.1 L1286.0,392.1 L1288.1,392.1 L1290.1,392.1 L1292.0,392.1 L1294.0,392.1 L1296.0,392.1 L1298.0,392.1 L1300.0,392.1 L1302.0,392.1 L1304.0,392.1 L1306.0,392.2 L1308.0,392.2 L1310.0,392.2 L1312.0,392.2 L1314.0,392.2" stroke="#ff0000" stroke-width="3.4" stroke-dasharray="13.3 11.6" stroke-dashoffset="5.5" fill="none"/>
<path d="M132.0,99.3 L134.0,99.2 L136.0,99.0 L138.0,98.9 L140.0,98.7 L142.0,98.6 L144.0,98.5 L146.0,98.4 L148.0,98.2 L150.0,98.1 L152.0,98.0 L154.0,97.9 L156.0,97.8 L158.0,97.6 L160.0,97.5 L162.0,97.4 L164.0,97.3 L166.0,97.2 L168.0,97.1 L170.0,97.0 L172.0,96.8 L174.0,96.7 L176.0,96.6 L178.0,96.5 L180.0,96.3 L182.0,96.2 L184.0,96.1 L186.0,95.9 L188.0,95.8 L190.0,95.7 L192.0,95.5 L194.0,95.4 L196.0,95.2 L198.0,95.1 L200.0,94.9 L202.0,94.7 L204.0,94.5 L206.0,94.4 L208.0,94.2 L210.0,94.0 L212.0,93.8 L214.0,93.6 L216.0,93.4 L218.0,93.1 L220.0,92.9 L222.0,92.7 L224.0,92.4 L226.0,92.1 L227.9,91.7 L229.9,91.3 L231.9,90.8 L233.8,90.4 L235.8,89.9 L237.8,89.4 L239.7,88.9 L241.7,88.4 L243.7,87.9 L245.7,87.5 L247.6,87.0 L249.6,86.6 L251.6,86.2 L253.5,85.8 L255.5,85.3 L257.4,84.9 L259.4,84.5 L261.4,84.1 L263.3,83.7 L265.3,83.3 L267.2,83.0 L269.2,82.7 L271.2,82.4 L273.2,82.1 L275.2,81.8 L277.2,81.5 L279.2,81.2 L281.2,80.9 L283.2,80.7 L285.2,80.4 L287.2,80.2 L289.2,80.1 L291.2,80.0 L293.2,80.0 L295.2,80.1 L297.3,80.2 L299.3,80.4 L301.3,80.7 L303.3,81.0 L305.3,81.4 L307.2,81.8 L309.0,82.5 L310.7,83.4 L312.5,84.5 L314.3,85.7 L316.1,86.9 L317.7,88.0 L319.4,89.2 L321.0,90.5 L322.7,91.7 L324.3,93.0 L325.9,94.2 L327.6,95.4 L329.2,96.6 L330.9,97.7 L332.5,98.9 L334.1,100.0 L335.8,101.2 L337.4,102.2 L339.1,103.3 L340.8,104.4 L342.6,105.6 L344.3,106.7 L346.1,107.8 L347.8,108.9 L349.6,109.9 L351.3,110.9 L353.1,111.8 L354.8,112.7 L356.6,113.5 L358.4,114.2 L360.1,114.9 L362.1,115.5 L364.1,116.1 L366.0,116.6 L368.0,117.0 L370.0,117.5 L371.9,117.9 L373.9,118.3 L375.9,118.8 L377.8,119.2 L379.8,119.7 L381.7,120.2 L383.7,120.7 L385.6,121.2 L387.6,121.8 L389.5,122.3 L391.5,122.9 L393.4,123.5 L395.4,124.1 L397.3,124.6 L399.3,125.2 L401.2,125.7 L403.1,126.2 L405.1,126.6 L407.1,127.0 L409.1,127.4 L411.1,127.8 L413.0,128.2 L415.0,128.6 L417.0,128.9 L419.0,129.3 L421.0,129.6 L423.0,130.0 L424.9,130.3 L426.9,130.6 L428.9,130.9 L430.9,131.2 L432.9,131.6 L434.9,131.9 L436.9,132.2 L438.8,132.5 L440.8,132.8 L442.8,133.1 L444.8,133.4 L446.8,133.7 L448.8,134.0 L450.8,134.3 L452.8,134.5 L454.7,134.8 L456.7,135.1 L458.7,135.3 L460.7,135.6 L462.7,135.8 L464.7,136.0 L466.7,136.3 L468.7,136.5 L470.7,136.8 L472.7,137.0 L474.7,137.2 L476.7,137.5 L478.7,137.7 L480.7,137.9 L482.7,138.1 L484.7,138.3 L486.7,138.5 L488.7,138.7 L490.6,138.9 L492.6,139.0 L494.6,139.1 L496.7,139.2 L498.7,139.3 L500.7,139.4 L502.7,139.5 L504.7,139.6 L506.7,139.6 L508.7,139.7 L510.7,139.7 L512.7,139.8 L514.7,139.8 L516.7,139.9 L518.7,140.0 L520.7,140.1 L522.7,140.2 L524.7,140.3 L526.7,140.4 L528.7,140.5 L530.7,140.7 L532.7,141.0 L534.8,141.4 L536.8,141.9 L538.6,142.6 L540.5,143.5 L542.3,144.5 L544.1,145.6 L545.8,146.6 L547.5,147.8 L549.2,148.9 L550.9,150.1 L552.6,151.2 L554.3,152.3 L556.1,153.3 L557.9,154.3 L559.7,155.2 L561.5,156.0 L563.4,156.8 L565.3,157.6 L567.2,158.3 L569.2,159.0 L571.1,159.7 L573.1,160.4 L575.0,161.0 L577.0,161.6 L578.9,162.2 L580.9,162.7 L582.8,163.3 L584.8,163.8 L586.7,164.3 L588.7,164.7 L590.6,165.2 L592.6,165.7 L594.5,166.2 L596.5,166.6 L598.5,167.1 L600.5,167.5 L602.5,167.9 L604.5,168.3 L606.5,168.7 L608.5,169.1 L610.5,169.4 L612.5,169.8 L614.4,170.1 L616.4,170.4 L618.4,170.7 L620.4,171.0 L622.4,171.2 L624.4,171.5 L626.4,171.8 L628.4,172.1 L630.4,172.4 L632.4,172.7 L634.4,173.0 L636.4,173.3 L638.4,173.6 L640.3,173.9 L642.3,174.2 L644.3,174.4 L646.3,174.6 L648.3,174.8 L650.3,175.0 L652.3,175.1 L654.3,175.3 L656.3,175.3 L658.3,175.4 L660.3,175.4 L662.3,175.4 L664.3,175.4 L666.3,175.3 L668.3,175.3 L670.3,175.3 L672.3,175.2 L674.3,175.1 L676.4,175.1 L678.4,175.0 L680.4,174.9 L682.4,174.8 L684.4,174.7 L686.4,174.6 L688.4,174.5 L690.4,174.4 L692.4,174.3 L694.4,174.2 L696.4,174.1 L698.5,174.0 L700.5,173.8 L702.5,173.7 L704.5,173.6 L706.5,173.5 L708.5,173.4 L710.5,173.2 L712.5,173.1 L714.5,173.0 L716.5,172.9 L718.5,172.8 L720.5,172.7 L722.5,172.6 L724.5,172.4 L726.5,172.3 L728.5,172.2 L730.5,172.1 L732.5,171.9 L734.5,171.8 L736.5,171.7 L738.5,171.5 L740.5,171.4 L742.5,171.2 L744.5,171.1 L746.5,170.9 L748.5,170.8 L750.5,170.6 L752.5,170.4 L754.5,170.2 L756.5,170.1 L758.5,169.9 L760.5,169.7 L762.5,169.5 L764.5,169.3 L766.5,169.1 L768.3,170.0 L770.0,171.0 L771.7,172.0 L773.4,172.9 L775.1,173.9 L776.9,174.8 L778.6,175.8 L780.4,176.7 L782.1,177.7 L783.9,178.6 L785.6,179.6 L787.4,180.5 L789.1,181.5 L790.9,182.4 L792.7,183.4 L794.4,184.3 L796.2,185.3 L798.0,186.3 L799.7,187.2 L801.5,188.2 L803.3,189.2 L805.0,190.1 L806.8,191.1 L808.5,192.1 L810.3,193.1 L812.0,194.1 L813.8,195.1 L815.5,196.1 L817.2,197.1 L819.0,198.2 L820.7,199.2 L822.4,200.3 L824.1,201.3 L825.8,202.4 L827.5,203.5 L829.1,204.5 L830.8,205.6 L832.5,206.8 L834.1,207.9 L835.7,209.0 L837.4,210.1 L839.0,211.3 L840.6,212.5 L842.2,213.6 L843.7,214.8 L845.3,216.0 L846.9,217.2 L848.4,218.5 L850.0,219.7 L851.5,220.9 L853.0,222.2 L854.5,223.5 L856.1,224.7 L857.6,226.0 L859.1,227.3 L860.6,228.6 L862.0,229.9 L863.5,231.2 L865.0,232.5 L866.5,233.8 L867.9,235.2 L869.4,236.5 L870.9,237.9 L872.3,239.2 L873.8,240.6 L875.2,241.9 L876.7,243.3 L878.1,244.7 L879.6,246.1 L881.0,247.5 L882.4,248.8 L883.9,250.2 L885.3,251.6 L886.8,253.1 L888.2,254.5 L889.6,255.9 L891.1,257.3 L892.5,258.7 L894.0,260.1 L895.4,261.6 L896.8,263.0 L898.3,264.4 L899.7,265.8 L901.2,267.3 L902.7,268.7 L904.1,270.1 L905.6,271.4 L907.1,272.8 L908.6,274.1 L910.1,275.5 L911.6,276.7 L913.1,278.0 L914.7,279.2 L916.3,280.4 L917.8,281.5 L919.4,282.6 L921.0,283.6 L922.7,284.6 L924.3,285.5 L926.0,286.4 L927.7,287.3 L929.4,288.1 L931.1,288.9 L932.9,289.7 L934.6,290.6 L936.4,291.4 L938.2,292.3 L939.9,293.3 L941.7,294.2 L943.5,295.3 L945.3,296.3 L947.1,297.4 L948.9,298.4 L950.8,299.5 L952.6,300.6 L954.4,301.6 L956.2,302.6 L958.0,303.6 L959.8,304.5 L961.6,305.4 L963.4,306.3 L965.3,307.2 L967.1,308.0 L968.9,308.9 L970.7,309.7 L972.5,310.5 L974.3,311.2 L976.1,312.0 L977.9,312.7 L979.7,313.5 L981.6,314.2 L983.4,314.9 L985.2,315.6 L987.0,316.3 L988.8,317.0 L990.7,317.7 L992.5,318.5 L994.3,319.2 L996.2,319.9 L998.0,320.6 L999.9,321.3 L1001.7,322.0 L1003.6,322.7 L1005.4,323.4 L1007.3,324.1 L1009.1,324.8 L1011.0,325.5 L1012.9,326.1 L1014.8,326.8 L1016.6,327.4 L1018.5,328.0 L1020.4,328.6 L1022.3,329.2 L1024.3,329.8 L1026.2,330.3 L1028.1,330.8 L1030.0,331.3 L1032.0,331.8 L1033.9,332.2 L1035.9,332.6 L1037.8,333.0 L1039.8,333.3 L1041.8,333.6 L1043.8,333.9 L1045.8,334.2 L1047.8,334.4 L1049.8,334.6 L1051.8,334.8 L1053.8,334.9 L1055.8,335.0 L1057.8,335.1 L1059.8,335.2 L1061.8,335.3 L1063.8,335.3 L1065.9,335.3 L1067.9,335.3 L1069.9,335.2 L1071.9,335.1 L1073.9,335.1 L1075.9,334.9 L1077.9,334.8 L1079.9,334.7 L1081.9,334.5 L1083.9,334.3 L1085.8,334.1 L1087.8,333.9 L1089.7,333.6 L1091.7,333.3 L1093.6,333.0 L1095.6,332.6 L1097.5,332.2 L1099.4,331.8 L1101.3,331.3 L1103.2,330.7 L1105.0,330.2 L1106.9,329.5 L1108.7,328.8 L1110.6,328.1 L1112.4,327.3 L1114.2,326.5 L1115.9,325.5 L1117.7,324.6 L1119.4,323.5 L1121.2,322.4 L1122.9,321.2 L1124.5,320.1 L1126.2,319.1 L1127.7,318.3 L1129.2,318.0 L1130.6,318.1 L1131.8,318.8 L1133.0,319.9 L1134.0,321.3 L1134.8,323.1 L1135.5,325.1 L1136.2,327.2 L1136.7,329.5 L1137.1,331.7 L1137.5,333.9 L1137.8,336.0 L1138.1,338.1 L1138.4,340.0 L1138.7,341.9 L1138.9,343.8 L1139.2,345.7 L1139.5,347.6 L1139.8,349.5 L1140.1,351.4 L1140.4,353.3 L1140.7,355.2 L1141.1,357.2 L1141.5,359.1 L1141.9,361.1 L1142.4,363.1 L1142.9,365.1 L1143.5,367.0 L1144.1,369.0 L1144.8,370.9 L1145.5,372.9 L1146.3,374.7 L1147.2,376.6 L1148.1,378.4 L1149.1,380.1 L1150.2,381.8 L1151.4,383.3 L1152.7,384.7 L1154.0,386.0 L1155.5,387.2 L1157.0,388.2 L1158.7,389.0 L1160.4,389.7 L1162.2,390.2 L1164.1,390.6 L1166.0,391.0 L1168.0,391.2 L1170.0,391.4 L1172.1,391.5 L1174.2,391.6 L1176.2,391.6 L1178.3,391.7 L1180.3,391.7 L1182.4,391.8 L1184.4,391.8 L1186.4,391.9 L1188.4,391.9 L1190.5,391.9 L1192.5,391.9 L1194.5,392.0 L1196.5,392.0 L1198.5,392.0 L1200.5,392.0 L1202.4,392.1 L1204.4,392.1 L1206.4,392.1 L1208.4,392.1 L1210.4,392.1 L1212.4,392.1 L1214.3,392.1 L1216.3,392.1 L1218.3,392.1 L1220.3,392.1 L1222.3,392.1 L1224.2,392.2 L1226.2,392.2 L1228.2,392.2 L1230.2,392.2 L1232.2,392.2 L1234.2,392.2 L1236.2,392.2 L1238.2,392.2 L1240.2,392.2 L1242.1,392.2 L1244.1,392.2 L1246.1,392.2 L1248.1,392.2 L1250.1,392.2 L1252.1,392.2 L1254.1,392.2 L1256.1,392.2 L1258.1,392.2 L1260.1,392.2 L1262.1,392.2 L1264.1,392.2 L1266.1,392.2 L1268.1,392.2 L1270.1,392.2 L1272.1,392.2 L1274.1,392.2 L1276.1,392.2 L1278.1,392.2 L1280.1,392.2 L1282.1,392.2 L1284.1,392.2 L1286.1,392.2 L1288.1,392.2 L1290.1,392.2 L1292.1,392.2 L1294.1,392.2 L1296.1,392.2 L1298.1,392.2 L1300.1,392.2 L1302.1,392.2 L1304.1,392.2 L1306.1,392.2 L1308.0,392.2 L1310.0,392.2 L1312.0,392.2 L1314.0,392.2" stroke="#ff0000" stroke-width="3.4" stroke-dasharray="12.9 2.7 6.6 2.7" stroke-dashoffset="5.5" fill="none"/>
</g>
<rect x="922.5" y="36.5" width="363.5" height="93.3" fill="#fff" stroke="#262626" stroke-width="1.5"/>
<line x1="932.4" y1="55.7" x2="1040.4" y2="55.7" stroke="#808080" stroke-width="7" stroke-dasharray="27 26"/>
<line x1="932.4" y1="83.8" x2="1040.4" y2="83.8" stroke="#000" stroke-width="7" stroke-dasharray="27 26"/>
<line x1="932.4" y1="111.8" x2="1040.4" y2="111.8" stroke="#0000ff" stroke-width="3.4"/>
<line x1="1114" y1="55.7" x2="1222.6" y2="55.7" stroke="#0000ff" stroke-width="3.4" stroke-dasharray="13.3 11.6"/>
<line x1="1114" y1="83.8" x2="1222.6" y2="83.8" stroke="#0000ff" stroke-width="3.4" stroke-dasharray="12.9 2.7 6.6 2.7"/>
<line x1="1114" y1="111.8" x2="1222.6" y2="111.8" stroke="#0000ff" stroke-width="5.2" stroke-dasharray="5.5 4.8"/>
<text x="1048.5" y="63.7" class="lg">REF</text>
<text x="1048.5" y="91.8" class="lg">SN</text>
<text x="1048.5" y="119.8" class="lg">GN1</text>
<text x="1230" y="63.7" class="lg">GN2</text>
<text x="1230" y="91.8" class="lg">GN3</text>
<text x="1230" y="119.8" class="lg">GN4</text>
<rect x="1104.3" y="562.2" width="181.9" height="93.3" fill="#fff" stroke="#262626" stroke-width="1.5"/>
<line x1="1114" y1="580.7" x2="1222.6" y2="580.7" stroke="#ff0000" stroke-width="3.4"/>
<line x1="1114" y1="608.8" x2="1222.6" y2="608.8" stroke="#ff0000" stroke-width="3.4" stroke-dasharray="13.3 11.6"/>
<line x1="1114" y1="636.8" x2="1222.6" y2="636.8" stroke="#ff0000" stroke-width="3.4" stroke-dasharray="12.9 2.7 6.6 2.7"/>
<text x="1230" y="588.7" class="lg">GN5</text>
<text x="1230" y="616.8" class="lg">GN6</text>
<text x="1230" y="644.8" class="lg">GN7</text>
<text x="722.5" y="1009.5" text-anchor="middle" class="xl">cross-shore [m]</text>
<text x="5.6" y="31.8" class="pl">A</text>
<text x="5" y="530.2" class="pl">B</text>
</svg>
</body></html>
